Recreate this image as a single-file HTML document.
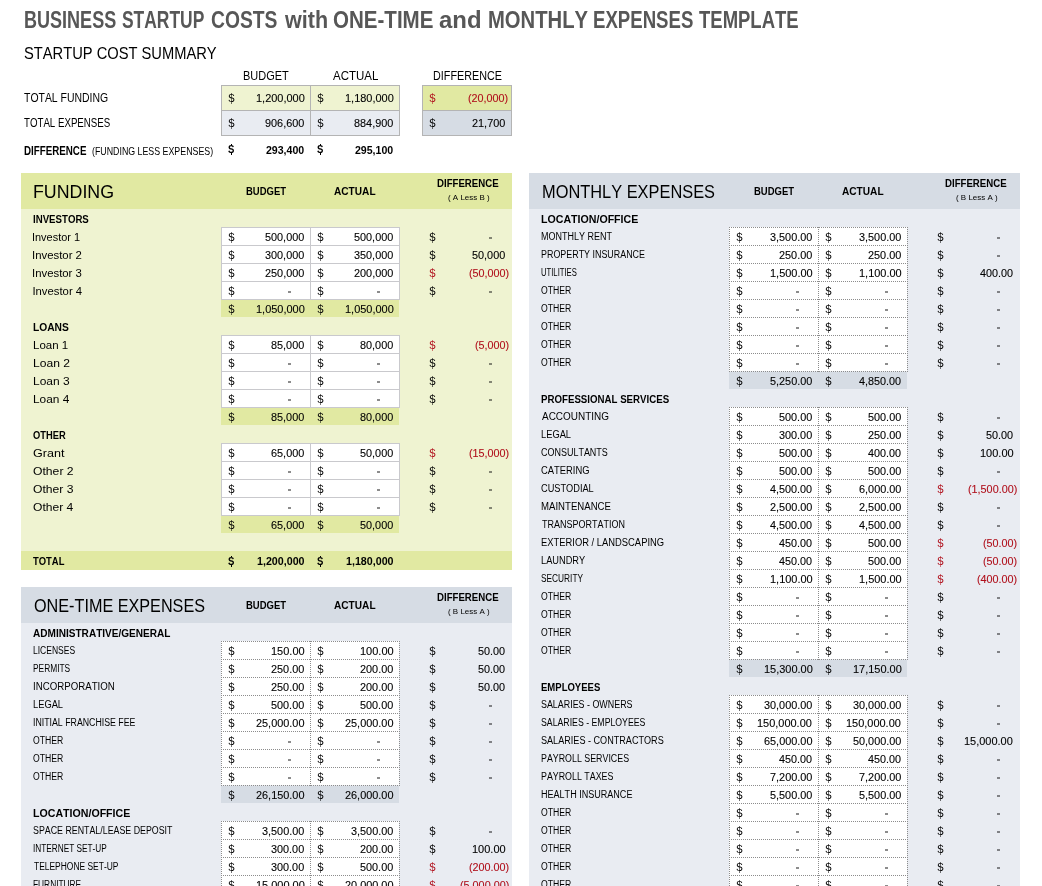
<!DOCTYPE html>
<html><head><meta charset="utf-8"><title>Business Startup Costs</title>
<style>
html,body{margin:0;padding:0;background:#fff;}
body{width:1042px;height:886px;position:relative;overflow:hidden;font-family:"Liberation Sans",sans-serif;font-kerning:none;will-change:transform;}
body>div,body>span{position:absolute;}
body>span{white-space:pre;transform-origin:0 0;}
</style></head><body>
<span style="left:23.89px;top:9.13px;font-size:23.0px;line-height:23.0px;font-weight:bold;color:#575757;transform:scaleX(0.7842);">BUSINESS</span>
<span style="left:122.30px;top:9.13px;font-size:23.0px;line-height:23.0px;font-weight:bold;color:#575757;transform:scaleX(0.7577);">STARTUP</span>
<span style="left:210.81px;top:9.13px;font-size:23.0px;line-height:23.0px;font-weight:bold;color:#575757;transform:scaleX(0.8386);">COSTS</span>
<span style="left:284.76px;top:9.13px;font-size:23.0px;line-height:23.0px;font-weight:bold;color:#575757;transform:scaleX(0.9366);">with</span>
<span style="left:333.06px;top:9.13px;font-size:23.0px;line-height:23.0px;font-weight:bold;color:#575757;transform:scaleX(0.8933);">ONE-TIME</span>
<span style="left:439.40px;top:9.13px;font-size:23.0px;line-height:23.0px;font-weight:bold;color:#575757;transform:scaleX(1.0413);">and</span>
<span style="left:487.95px;top:9.13px;font-size:23.0px;line-height:23.0px;font-weight:bold;color:#575757;transform:scaleX(0.8801);">MONTHLY</span>
<span style="left:593.15px;top:9.13px;font-size:23.0px;line-height:23.0px;font-weight:bold;color:#575757;transform:scaleX(0.8095);">EXPENSES</span>
<span style="left:698.69px;top:9.13px;font-size:23.0px;line-height:23.0px;font-weight:bold;color:#575757;transform:scaleX(0.8039);">TEMPLATE</span>
<span style="left:24.33px;top:44.61px;font-size:17px;line-height:17px;color:#000000;transform:scaleX(0.8640);">STARTUP COST SUMMARY</span>
<span style="left:243.40px;top:69.96px;font-size:12.8px;line-height:12.8px;color:#000000;transform:scaleX(0.8578);">BUDGET</span>
<span style="left:332.78px;top:69.96px;font-size:12.8px;line-height:12.8px;color:#000000;transform:scaleX(0.8971);">ACTUAL</span>
<span style="left:432.81px;top:69.96px;font-size:12.8px;line-height:12.8px;color:#000000;transform:scaleX(0.8431);">DIFFERENCE</span>
<span style="left:23.97px;top:91.72px;font-size:12.5px;line-height:12.5px;color:#000000;transform:scaleX(0.8353);">TOTAL FUNDING</span>
<span style="left:23.98px;top:116.62px;font-size:12.5px;line-height:12.5px;color:#000000;transform:scaleX(0.7761);">TOTAL EXPENSES</span>
<span style="left:23.55px;top:144.72px;font-size:12.5px;line-height:12.5px;font-weight:bold;color:#000000;transform:scaleX(0.7818);">DIFFERENCE</span>
<span style="left:92.25px;top:145.56px;font-size:11.5px;line-height:11.5px;color:#000000;transform:scaleX(0.7672);">(FUNDING LESS EXPENSES)</span>
<div style="left:221px;top:85px;width:178px;height:25px;background:#EFF3D1;"></div>
<div style="left:221px;top:110px;width:178px;height:25px;background:#E9ECF2;"></div>
<div style="left:422px;top:85px;width:89px;height:25px;background:#E1E9A2;"></div>
<div style="left:422px;top:110px;width:89px;height:25px;background:#D6DCE4;"></div>
<div style="left:221px;top:85px;width:179px;height:0;border-top:1px solid #B4B4B4"></div>
<div style="left:422px;top:85px;width:90px;height:0;border-top:1px solid #B4B4B4"></div>
<div style="left:221px;top:110px;width:179px;height:0;border-top:1px solid #B4B4B4"></div>
<div style="left:422px;top:110px;width:90px;height:0;border-top:1px solid #B4B4B4"></div>
<div style="left:221px;top:135px;width:179px;height:0;border-top:1px solid #B4B4B4"></div>
<div style="left:422px;top:135px;width:90px;height:0;border-top:1px solid #B4B4B4"></div>
<div style="left:221px;top:85px;width:0;height:51px;border-left:1px solid #B4B4B4"></div>
<div style="left:310px;top:85px;width:0;height:51px;border-left:1px solid #B4B4B4"></div>
<div style="left:399px;top:85px;width:0;height:51px;border-left:1px solid #B4B4B4"></div>
<div style="left:422px;top:85px;width:0;height:51px;border-left:1px solid #B4B4B4"></div>
<div style="left:511px;top:85px;width:0;height:51px;border-left:1px solid #B4B4B4"></div>
<span style="left:227.93px;top:93.02px;font-size:10.6px;line-height:10.6px;color:#000000;transform:scaleX(0.9669);">S</span>
<div style="left:231px;top:93.0px;width:1px;height:11.2px;background:#000000;opacity:0.55"></div>
<span style="left:255.53px;top:92.52px;font-size:10.6px;line-height:10.6px;color:#000000;transform:scaleX(1.0347);-webkit-text-stroke:0.1px #000000;">1,200,000</span>
<span style="left:316.93px;top:93.02px;font-size:10.6px;line-height:10.6px;color:#000000;transform:scaleX(0.9669);">S</span>
<div style="left:320px;top:93.0px;width:1px;height:11.2px;background:#000000;opacity:0.55"></div>
<span style="left:344.53px;top:92.52px;font-size:10.6px;line-height:10.6px;color:#000000;transform:scaleX(1.0347);-webkit-text-stroke:0.1px #000000;">1,180,000</span>
<span style="left:227.93px;top:118.32px;font-size:10.6px;line-height:10.6px;color:#000000;transform:scaleX(0.9669);">S</span>
<div style="left:231px;top:118.3px;width:1px;height:11.2px;background:#000000;opacity:0.55"></div>
<span style="left:264.96px;top:117.82px;font-size:10.6px;line-height:10.6px;color:#000000;transform:scaleX(1.0274);-webkit-text-stroke:0.1px #000000;">906,600</span>
<span style="left:316.93px;top:118.32px;font-size:10.6px;line-height:10.6px;color:#000000;transform:scaleX(0.9669);">S</span>
<div style="left:320px;top:118.3px;width:1px;height:11.2px;background:#000000;opacity:0.55"></div>
<span style="left:354.00px;top:117.82px;font-size:10.6px;line-height:10.6px;color:#000000;transform:scaleX(1.0264);-webkit-text-stroke:0.1px #000000;">884,900</span>
<span style="left:428.93px;top:93.02px;font-size:10.6px;line-height:10.6px;color:#B0101C;transform:scaleX(0.9669);">S</span>
<div style="left:432px;top:93.0px;width:1px;height:11.2px;background:#B0101C;opacity:0.55"></div>
<span style="left:467.89px;top:92.52px;font-size:10.6px;line-height:10.6px;color:#B0101C;transform:scaleX(1.0178);-webkit-text-stroke:0.1px #B0101C;">(20,000)</span>
<span style="left:428.93px;top:118.32px;font-size:10.6px;line-height:10.6px;color:#000000;transform:scaleX(0.9669);">S</span>
<div style="left:432px;top:118.3px;width:1px;height:11.2px;background:#000000;opacity:0.55"></div>
<span style="left:471.79px;top:117.82px;font-size:10.6px;line-height:10.6px;color:#000000;transform:scaleX(1.0283);-webkit-text-stroke:0.1px #000000;">21,700</span>
<span style="left:228.13px;top:144.23px;font-size:11.3px;line-height:11.3px;font-weight:bold;color:#000000;transform:scaleX(0.8419);">S</span>
<div style="left:230.9px;top:144.29999999999998px;width:1.2px;height:1.6px;background:#000000"></div>
<div style="left:230.9px;top:152.6px;width:1.2px;height:2.6px;background:#000000"></div>
<span style="left:265.95px;top:144.62px;font-size:10.6px;line-height:10.6px;font-weight:bold;color:#000000;">293,400</span>
<span style="left:317.13px;top:144.23px;font-size:11.3px;line-height:11.3px;font-weight:bold;color:#000000;transform:scaleX(0.8419);">S</span>
<div style="left:319.9px;top:144.29999999999998px;width:1.2px;height:1.6px;background:#000000"></div>
<div style="left:319.9px;top:152.6px;width:1.2px;height:2.6px;background:#000000"></div>
<span style="left:354.95px;top:144.62px;font-size:10.6px;line-height:10.6px;font-weight:bold;color:#000000;">295,100</span>
<div style="left:21px;top:173px;width:491px;height:396px;background:#EFF3D1;"></div>
<div style="left:21px;top:173px;width:491px;height:36px;background:#E1E9A2;"></div>
<span style="left:33.44px;top:183.42px;font-size:18.4px;line-height:18.4px;color:#000000;transform:scaleX(0.9675);">FUNDING</span>
<span style="left:246.17px;top:185.96px;font-size:10.8px;line-height:10.8px;font-weight:bold;color:#000000;transform:scaleX(0.8780);">BUDGET</span>
<span style="left:334.35px;top:185.96px;font-size:10.8px;line-height:10.8px;font-weight:bold;color:#000000;transform:scaleX(0.9363);">ACTUAL</span>
<span style="left:437.05px;top:178.58px;font-size:10.3px;line-height:10.3px;font-weight:bold;color:#000000;transform:scaleX(0.9364);">DIFFERENCE</span>
<span style="left:447.51px;top:194.33px;font-size:8px;line-height:8px;color:#000000;transform:scaleX(0.9952);">( A Less B )</span>
<span style="left:32.65px;top:212.68px;font-size:11.6px;line-height:11.6px;font-weight:bold;color:#000000;transform:scaleX(0.8329);">INVESTORS</span>
<div style="left:221px;top:227px;width:178px;height:72px;background:#FFFFFF;"></div>
<div style="left:221px;top:227px;width:179px;height:0;border-top:1px solid #C9C9CD"></div>
<div style="left:221px;top:245px;width:179px;height:0;border-top:1px solid #C9C9CD"></div>
<div style="left:221px;top:263px;width:179px;height:0;border-top:1px solid #C9C9CD"></div>
<div style="left:221px;top:281px;width:179px;height:0;border-top:1px solid #C9C9CD"></div>
<div style="left:221px;top:299px;width:179px;height:0;border-top:1px solid #C9C9CD"></div>
<div style="left:221px;top:227px;width:0;height:73px;border-left:1px solid #C9C9CD"></div>
<div style="left:310px;top:227px;width:0;height:73px;border-left:1px solid #C9C9CD"></div>
<div style="left:399px;top:227px;width:0;height:73px;border-left:1px solid #C9C9CD"></div>
<span style="left:32.49px;top:232.13px;font-size:11.3px;line-height:11.3px;color:#000000;transform:scaleX(0.9682);">Investor 1</span>
<span style="left:227.93px;top:231.72px;font-size:10.6px;line-height:10.6px;color:#000000;transform:scaleX(0.9669);">S</span>
<div style="left:231px;top:231.7px;width:1px;height:11.2px;background:#000000;opacity:0.55"></div>
<span style="left:265.03px;top:232.02px;font-size:10.6px;line-height:10.6px;color:#000000;transform:scaleX(1.0254);-webkit-text-stroke:0.1px #000000;">500,000</span>
<span style="left:316.93px;top:231.72px;font-size:10.6px;line-height:10.6px;color:#000000;transform:scaleX(0.9669);">S</span>
<div style="left:320px;top:231.7px;width:1px;height:11.2px;background:#000000;opacity:0.55"></div>
<span style="left:354.03px;top:232.02px;font-size:10.6px;line-height:10.6px;color:#000000;transform:scaleX(1.0254);-webkit-text-stroke:0.1px #000000;">500,000</span>
<span style="left:429.13px;top:231.72px;font-size:10.6px;line-height:10.6px;color:#000000;transform:scaleX(0.9669);">S</span>
<div style="left:432px;top:231.7px;width:1px;height:11.2px;background:#000000;opacity:0.55"></div>
<div style="left:489px;top:237px;width:3px;height:2px;background:rgba(0,0,0,0.45)"></div>
<span style="left:32.45px;top:250.13px;font-size:11.3px;line-height:11.3px;color:#000000;transform:scaleX(1.0061);">Investor 2</span>
<span style="left:227.93px;top:249.72px;font-size:10.6px;line-height:10.6px;color:#000000;transform:scaleX(0.9669);">S</span>
<div style="left:231px;top:249.7px;width:1px;height:11.2px;background:#000000;opacity:0.55"></div>
<span style="left:265.06px;top:250.02px;font-size:10.6px;line-height:10.6px;color:#000000;transform:scaleX(1.0249);-webkit-text-stroke:0.1px #000000;">300,000</span>
<span style="left:316.93px;top:249.72px;font-size:10.6px;line-height:10.6px;color:#000000;transform:scaleX(0.9669);">S</span>
<div style="left:320px;top:249.7px;width:1px;height:11.2px;background:#000000;opacity:0.55"></div>
<span style="left:354.06px;top:250.02px;font-size:10.6px;line-height:10.6px;color:#000000;transform:scaleX(1.0249);-webkit-text-stroke:0.1px #000000;">350,000</span>
<span style="left:429.13px;top:249.72px;font-size:10.6px;line-height:10.6px;color:#000000;transform:scaleX(0.9669);">S</span>
<div style="left:432px;top:249.7px;width:1px;height:11.2px;background:#000000;opacity:0.55"></div>
<span style="left:472.00px;top:250.02px;font-size:10.6px;line-height:10.6px;color:#000000;transform:scaleX(1.0248);-webkit-text-stroke:0.1px #000000;">50,000</span>
<span style="left:32.45px;top:268.13px;font-size:11.3px;line-height:11.3px;color:#000000;transform:scaleX(1.0046);">Investor 3</span>
<span style="left:227.93px;top:267.72px;font-size:10.6px;line-height:10.6px;color:#000000;transform:scaleX(0.9669);">S</span>
<div style="left:231px;top:267.7px;width:1px;height:11.2px;background:#000000;opacity:0.55"></div>
<span style="left:264.92px;top:268.02px;font-size:10.6px;line-height:10.6px;color:#000000;transform:scaleX(1.0284);-webkit-text-stroke:0.1px #000000;">250,000</span>
<span style="left:316.93px;top:267.72px;font-size:10.6px;line-height:10.6px;color:#000000;transform:scaleX(0.9669);">S</span>
<div style="left:320px;top:267.7px;width:1px;height:11.2px;background:#000000;opacity:0.55"></div>
<span style="left:353.92px;top:268.02px;font-size:10.6px;line-height:10.6px;color:#000000;transform:scaleX(1.0284);-webkit-text-stroke:0.1px #000000;">200,000</span>
<span style="left:429.13px;top:267.72px;font-size:10.6px;line-height:10.6px;color:#B0101C;transform:scaleX(0.9669);">S</span>
<div style="left:432px;top:267.7px;width:1px;height:11.2px;background:#B0101C;opacity:0.55"></div>
<span style="left:468.79px;top:268.02px;font-size:10.6px;line-height:10.6px;color:#B0101C;transform:scaleX(1.0178);-webkit-text-stroke:0.1px #B0101C;">(50,000)</span>
<span style="left:32.46px;top:286.13px;font-size:11.3px;line-height:11.3px;color:#000000;">Investor 4</span>
<span style="left:227.93px;top:285.72px;font-size:10.6px;line-height:10.6px;color:#000000;transform:scaleX(0.9669);">S</span>
<div style="left:231px;top:285.7px;width:1px;height:11.2px;background:#000000;opacity:0.55"></div>
<div style="left:288px;top:291px;width:3px;height:2px;background:rgba(0,0,0,0.45)"></div>
<span style="left:316.93px;top:285.72px;font-size:10.6px;line-height:10.6px;color:#000000;transform:scaleX(0.9669);">S</span>
<div style="left:320px;top:285.7px;width:1px;height:11.2px;background:#000000;opacity:0.55"></div>
<div style="left:377px;top:291px;width:3px;height:2px;background:rgba(0,0,0,0.45)"></div>
<span style="left:429.13px;top:285.72px;font-size:10.6px;line-height:10.6px;color:#000000;transform:scaleX(0.9669);">S</span>
<div style="left:432px;top:285.7px;width:1px;height:11.2px;background:#000000;opacity:0.55"></div>
<div style="left:489px;top:291px;width:3px;height:2px;background:rgba(0,0,0,0.45)"></div>
<div style="left:221px;top:300px;width:178px;height:17px;background:#E1E9A2;"></div>
<span style="left:227.93px;top:303.72px;font-size:10.6px;line-height:10.6px;color:#000000;transform:scaleX(0.9669);">S</span>
<div style="left:231px;top:303.7px;width:1px;height:11.2px;background:#000000;opacity:0.55"></div>
<span style="left:255.53px;top:304.02px;font-size:10.6px;line-height:10.6px;color:#000000;transform:scaleX(1.0347);-webkit-text-stroke:0.1px #000000;">1,050,000</span>
<span style="left:316.93px;top:303.72px;font-size:10.6px;line-height:10.6px;color:#000000;transform:scaleX(0.9669);">S</span>
<div style="left:320px;top:303.7px;width:1px;height:11.2px;background:#000000;opacity:0.55"></div>
<span style="left:344.53px;top:304.02px;font-size:10.6px;line-height:10.6px;color:#000000;transform:scaleX(1.0347);-webkit-text-stroke:0.1px #000000;">1,050,000</span>
<span style="left:32.62px;top:320.68px;font-size:11.6px;line-height:11.6px;font-weight:bold;color:#000000;transform:scaleX(0.8827);">LOANS</span>
<div style="left:221px;top:335px;width:178px;height:72px;background:#FFFFFF;"></div>
<div style="left:221px;top:335px;width:179px;height:0;border-top:1px solid #C9C9CD"></div>
<div style="left:221px;top:353px;width:179px;height:0;border-top:1px solid #C9C9CD"></div>
<div style="left:221px;top:371px;width:179px;height:0;border-top:1px solid #C9C9CD"></div>
<div style="left:221px;top:389px;width:179px;height:0;border-top:1px solid #C9C9CD"></div>
<div style="left:221px;top:407px;width:179px;height:0;border-top:1px solid #C9C9CD"></div>
<div style="left:221px;top:335px;width:0;height:73px;border-left:1px solid #C9C9CD"></div>
<div style="left:310px;top:335px;width:0;height:73px;border-left:1px solid #C9C9CD"></div>
<div style="left:399px;top:335px;width:0;height:73px;border-left:1px solid #C9C9CD"></div>
<span style="left:32.56px;top:340.13px;font-size:11.3px;line-height:11.3px;color:#000000;transform:scaleX(1.0186);">Loan 1</span>
<span style="left:227.93px;top:339.72px;font-size:10.6px;line-height:10.6px;color:#000000;transform:scaleX(0.9669);">S</span>
<div style="left:231px;top:339.7px;width:1px;height:11.2px;background:#000000;opacity:0.55"></div>
<span style="left:271.06px;top:340.02px;font-size:10.6px;line-height:10.6px;color:#000000;transform:scaleX(1.0259);-webkit-text-stroke:0.1px #000000;">85,000</span>
<span style="left:316.93px;top:339.72px;font-size:10.6px;line-height:10.6px;color:#000000;transform:scaleX(0.9669);">S</span>
<div style="left:320px;top:339.7px;width:1px;height:11.2px;background:#000000;opacity:0.55"></div>
<span style="left:360.06px;top:340.02px;font-size:10.6px;line-height:10.6px;color:#000000;transform:scaleX(1.0259);-webkit-text-stroke:0.1px #000000;">80,000</span>
<span style="left:429.13px;top:339.72px;font-size:10.6px;line-height:10.6px;color:#B0101C;transform:scaleX(0.9669);">S</span>
<div style="left:432px;top:339.7px;width:1px;height:11.2px;background:#B0101C;opacity:0.55"></div>
<span style="left:474.85px;top:340.02px;font-size:10.6px;line-height:10.6px;color:#B0101C;transform:scaleX(1.0158);-webkit-text-stroke:0.1px #B0101C;">(5,000)</span>
<span style="left:32.51px;top:358.13px;font-size:11.3px;line-height:11.3px;color:#000000;transform:scaleX(1.0706);">Loan 2</span>
<span style="left:227.93px;top:357.72px;font-size:10.6px;line-height:10.6px;color:#000000;transform:scaleX(0.9669);">S</span>
<div style="left:231px;top:357.7px;width:1px;height:11.2px;background:#000000;opacity:0.55"></div>
<div style="left:288px;top:363px;width:3px;height:2px;background:rgba(0,0,0,0.45)"></div>
<span style="left:316.93px;top:357.72px;font-size:10.6px;line-height:10.6px;color:#000000;transform:scaleX(0.9669);">S</span>
<div style="left:320px;top:357.7px;width:1px;height:11.2px;background:#000000;opacity:0.55"></div>
<div style="left:377px;top:363px;width:3px;height:2px;background:rgba(0,0,0,0.45)"></div>
<span style="left:429.13px;top:357.72px;font-size:10.6px;line-height:10.6px;color:#000000;transform:scaleX(0.9669);">S</span>
<div style="left:432px;top:357.7px;width:1px;height:11.2px;background:#000000;opacity:0.55"></div>
<div style="left:489px;top:363px;width:3px;height:2px;background:rgba(0,0,0,0.45)"></div>
<span style="left:32.52px;top:376.13px;font-size:11.3px;line-height:11.3px;color:#000000;transform:scaleX(1.0592);">Loan 3</span>
<span style="left:227.93px;top:375.72px;font-size:10.6px;line-height:10.6px;color:#000000;transform:scaleX(0.9669);">S</span>
<div style="left:231px;top:375.7px;width:1px;height:11.2px;background:#000000;opacity:0.55"></div>
<div style="left:288px;top:381px;width:3px;height:2px;background:rgba(0,0,0,0.45)"></div>
<span style="left:316.93px;top:375.72px;font-size:10.6px;line-height:10.6px;color:#000000;transform:scaleX(0.9669);">S</span>
<div style="left:320px;top:375.7px;width:1px;height:11.2px;background:#000000;opacity:0.55"></div>
<div style="left:377px;top:381px;width:3px;height:2px;background:rgba(0,0,0,0.45)"></div>
<span style="left:429.13px;top:375.72px;font-size:10.6px;line-height:10.6px;color:#000000;transform:scaleX(0.9669);">S</span>
<div style="left:432px;top:375.7px;width:1px;height:11.2px;background:#000000;opacity:0.55"></div>
<div style="left:489px;top:381px;width:3px;height:2px;background:rgba(0,0,0,0.45)"></div>
<span style="left:32.53px;top:394.13px;font-size:11.3px;line-height:11.3px;color:#000000;transform:scaleX(1.0509);">Loan 4</span>
<span style="left:227.93px;top:393.72px;font-size:10.6px;line-height:10.6px;color:#000000;transform:scaleX(0.9669);">S</span>
<div style="left:231px;top:393.7px;width:1px;height:11.2px;background:#000000;opacity:0.55"></div>
<div style="left:288px;top:399px;width:3px;height:2px;background:rgba(0,0,0,0.45)"></div>
<span style="left:316.93px;top:393.72px;font-size:10.6px;line-height:10.6px;color:#000000;transform:scaleX(0.9669);">S</span>
<div style="left:320px;top:393.7px;width:1px;height:11.2px;background:#000000;opacity:0.55"></div>
<div style="left:377px;top:399px;width:3px;height:2px;background:rgba(0,0,0,0.45)"></div>
<span style="left:429.13px;top:393.72px;font-size:10.6px;line-height:10.6px;color:#000000;transform:scaleX(0.9669);">S</span>
<div style="left:432px;top:393.7px;width:1px;height:11.2px;background:#000000;opacity:0.55"></div>
<div style="left:489px;top:399px;width:3px;height:2px;background:rgba(0,0,0,0.45)"></div>
<div style="left:221px;top:408px;width:178px;height:17px;background:#E1E9A2;"></div>
<span style="left:227.93px;top:411.72px;font-size:10.6px;line-height:10.6px;color:#000000;transform:scaleX(0.9669);">S</span>
<div style="left:231px;top:411.7px;width:1px;height:11.2px;background:#000000;opacity:0.55"></div>
<span style="left:271.06px;top:412.02px;font-size:10.6px;line-height:10.6px;color:#000000;transform:scaleX(1.0259);-webkit-text-stroke:0.1px #000000;">85,000</span>
<span style="left:316.93px;top:411.72px;font-size:10.6px;line-height:10.6px;color:#000000;transform:scaleX(0.9669);">S</span>
<div style="left:320px;top:411.7px;width:1px;height:11.2px;background:#000000;opacity:0.55"></div>
<span style="left:360.06px;top:412.02px;font-size:10.6px;line-height:10.6px;color:#000000;transform:scaleX(1.0259);-webkit-text-stroke:0.1px #000000;">80,000</span>
<span style="left:32.92px;top:428.68px;font-size:11.6px;line-height:11.6px;font-weight:bold;color:#000000;transform:scaleX(0.8057);">OTHER</span>
<div style="left:221px;top:443px;width:178px;height:72px;background:#FFFFFF;"></div>
<div style="left:221px;top:443px;width:179px;height:0;border-top:1px solid #C9C9CD"></div>
<div style="left:221px;top:461px;width:179px;height:0;border-top:1px solid #C9C9CD"></div>
<div style="left:221px;top:479px;width:179px;height:0;border-top:1px solid #C9C9CD"></div>
<div style="left:221px;top:497px;width:179px;height:0;border-top:1px solid #C9C9CD"></div>
<div style="left:221px;top:515px;width:179px;height:0;border-top:1px solid #C9C9CD"></div>
<div style="left:221px;top:443px;width:0;height:73px;border-left:1px solid #C9C9CD"></div>
<div style="left:310px;top:443px;width:0;height:73px;border-left:1px solid #C9C9CD"></div>
<div style="left:399px;top:443px;width:0;height:73px;border-left:1px solid #C9C9CD"></div>
<span style="left:32.87px;top:448.13px;font-size:11.3px;line-height:11.3px;color:#000000;transform:scaleX(1.1119);">Grant</span>
<span style="left:227.93px;top:447.72px;font-size:10.6px;line-height:10.6px;color:#000000;transform:scaleX(0.9669);">S</span>
<div style="left:231px;top:447.7px;width:1px;height:11.2px;background:#000000;opacity:0.55"></div>
<span style="left:270.98px;top:448.02px;font-size:10.6px;line-height:10.6px;color:#000000;transform:scaleX(1.0285);-webkit-text-stroke:0.1px #000000;">65,000</span>
<span style="left:316.93px;top:447.72px;font-size:10.6px;line-height:10.6px;color:#000000;transform:scaleX(0.9669);">S</span>
<div style="left:320px;top:447.7px;width:1px;height:11.2px;background:#000000;opacity:0.55"></div>
<span style="left:360.10px;top:448.02px;font-size:10.6px;line-height:10.6px;color:#000000;transform:scaleX(1.0248);-webkit-text-stroke:0.1px #000000;">50,000</span>
<span style="left:429.13px;top:447.72px;font-size:10.6px;line-height:10.6px;color:#B0101C;transform:scaleX(0.9669);">S</span>
<div style="left:432px;top:447.7px;width:1px;height:11.2px;background:#B0101C;opacity:0.55"></div>
<span style="left:468.79px;top:448.02px;font-size:10.6px;line-height:10.6px;color:#B0101C;transform:scaleX(1.0178);-webkit-text-stroke:0.1px #B0101C;">(15,000)</span>
<span style="left:32.92px;top:466.13px;font-size:11.3px;line-height:11.3px;color:#000000;transform:scaleX(1.0770);">Other 2</span>
<span style="left:227.93px;top:465.72px;font-size:10.6px;line-height:10.6px;color:#000000;transform:scaleX(0.9669);">S</span>
<div style="left:231px;top:465.7px;width:1px;height:11.2px;background:#000000;opacity:0.55"></div>
<div style="left:288px;top:471px;width:3px;height:2px;background:rgba(0,0,0,0.45)"></div>
<span style="left:316.93px;top:465.72px;font-size:10.6px;line-height:10.6px;color:#000000;transform:scaleX(0.9669);">S</span>
<div style="left:320px;top:465.7px;width:1px;height:11.2px;background:#000000;opacity:0.55"></div>
<div style="left:377px;top:471px;width:3px;height:2px;background:rgba(0,0,0,0.45)"></div>
<span style="left:429.13px;top:465.72px;font-size:10.6px;line-height:10.6px;color:#000000;transform:scaleX(0.9669);">S</span>
<div style="left:432px;top:465.7px;width:1px;height:11.2px;background:#000000;opacity:0.55"></div>
<div style="left:489px;top:471px;width:3px;height:2px;background:rgba(0,0,0,0.45)"></div>
<span style="left:32.92px;top:484.13px;font-size:11.3px;line-height:11.3px;color:#000000;transform:scaleX(1.0749);">Other 3</span>
<span style="left:227.93px;top:483.72px;font-size:10.6px;line-height:10.6px;color:#000000;transform:scaleX(0.9669);">S</span>
<div style="left:231px;top:483.7px;width:1px;height:11.2px;background:#000000;opacity:0.55"></div>
<div style="left:288px;top:489px;width:3px;height:2px;background:rgba(0,0,0,0.45)"></div>
<span style="left:316.93px;top:483.72px;font-size:10.6px;line-height:10.6px;color:#000000;transform:scaleX(0.9669);">S</span>
<div style="left:320px;top:483.7px;width:1px;height:11.2px;background:#000000;opacity:0.55"></div>
<div style="left:377px;top:489px;width:3px;height:2px;background:rgba(0,0,0,0.45)"></div>
<span style="left:429.13px;top:483.72px;font-size:10.6px;line-height:10.6px;color:#000000;transform:scaleX(0.9669);">S</span>
<div style="left:432px;top:483.7px;width:1px;height:11.2px;background:#000000;opacity:0.55"></div>
<div style="left:489px;top:489px;width:3px;height:2px;background:rgba(0,0,0,0.45)"></div>
<span style="left:32.93px;top:502.13px;font-size:11.3px;line-height:11.3px;color:#000000;transform:scaleX(1.0701);">Other 4</span>
<span style="left:227.93px;top:501.72px;font-size:10.6px;line-height:10.6px;color:#000000;transform:scaleX(0.9669);">S</span>
<div style="left:231px;top:501.7px;width:1px;height:11.2px;background:#000000;opacity:0.55"></div>
<div style="left:288px;top:507px;width:3px;height:2px;background:rgba(0,0,0,0.45)"></div>
<span style="left:316.93px;top:501.72px;font-size:10.6px;line-height:10.6px;color:#000000;transform:scaleX(0.9669);">S</span>
<div style="left:320px;top:501.7px;width:1px;height:11.2px;background:#000000;opacity:0.55"></div>
<div style="left:377px;top:507px;width:3px;height:2px;background:rgba(0,0,0,0.45)"></div>
<span style="left:429.13px;top:501.72px;font-size:10.6px;line-height:10.6px;color:#000000;transform:scaleX(0.9669);">S</span>
<div style="left:432px;top:501.7px;width:1px;height:11.2px;background:#000000;opacity:0.55"></div>
<div style="left:489px;top:507px;width:3px;height:2px;background:rgba(0,0,0,0.45)"></div>
<div style="left:221px;top:516px;width:178px;height:17px;background:#E1E9A2;"></div>
<span style="left:227.93px;top:519.72px;font-size:10.6px;line-height:10.6px;color:#000000;transform:scaleX(0.9669);">S</span>
<div style="left:231px;top:519.7px;width:1px;height:11.2px;background:#000000;opacity:0.55"></div>
<span style="left:270.98px;top:520.02px;font-size:10.6px;line-height:10.6px;color:#000000;transform:scaleX(1.0285);-webkit-text-stroke:0.1px #000000;">65,000</span>
<span style="left:316.93px;top:519.72px;font-size:10.6px;line-height:10.6px;color:#000000;transform:scaleX(0.9669);">S</span>
<div style="left:320px;top:519.7px;width:1px;height:11.2px;background:#000000;opacity:0.55"></div>
<span style="left:360.10px;top:520.02px;font-size:10.6px;line-height:10.6px;color:#000000;transform:scaleX(1.0248);-webkit-text-stroke:0.1px #000000;">50,000</span>
<div style="left:21px;top:551px;width:491px;height:19px;background:#E1E9A2;"></div>
<span style="left:32.99px;top:555.18px;font-size:11.6px;line-height:11.6px;font-weight:bold;color:#000000;transform:scaleX(0.8130);">TOTAL</span>
<span style="left:228.13px;top:555.63px;font-size:11.3px;line-height:11.3px;font-weight:bold;color:#000000;transform:scaleX(0.8419);">S</span>
<div style="left:230.9px;top:555.7px;width:1.2px;height:1.6px;background:#000000"></div>
<div style="left:230.9px;top:564px;width:1.2px;height:2.6px;background:#000000"></div>
<span style="left:256.74px;top:556.02px;font-size:10.6px;line-height:10.6px;font-weight:bold;color:#000000;transform:scaleX(1.0094);">1,200,000</span>
<span style="left:317.13px;top:555.63px;font-size:11.3px;line-height:11.3px;font-weight:bold;color:#000000;transform:scaleX(0.8419);">S</span>
<div style="left:319.9px;top:555.7px;width:1.2px;height:1.6px;background:#000000"></div>
<div style="left:319.9px;top:564px;width:1.2px;height:2.6px;background:#000000"></div>
<span style="left:345.74px;top:556.02px;font-size:10.6px;line-height:10.6px;font-weight:bold;color:#000000;transform:scaleX(1.0094);">1,180,000</span>
<div style="left:529px;top:173px;width:491px;height:738px;background:#E9ECF2;"></div>
<div style="left:529px;top:173px;width:491px;height:36px;background:#D6DCE4;"></div>
<span style="left:541.56px;top:183.42px;font-size:18.4px;line-height:18.4px;color:#000000;transform:scaleX(0.8910);">MONTHLY EXPENSES</span>
<span style="left:754.17px;top:185.96px;font-size:10.8px;line-height:10.8px;font-weight:bold;color:#000000;transform:scaleX(0.8780);">BUDGET</span>
<span style="left:842.35px;top:185.96px;font-size:10.8px;line-height:10.8px;font-weight:bold;color:#000000;transform:scaleX(0.9363);">ACTUAL</span>
<span style="left:945.05px;top:178.58px;font-size:10.3px;line-height:10.3px;font-weight:bold;color:#000000;transform:scaleX(0.9364);">DIFFERENCE</span>
<span style="left:955.51px;top:194.33px;font-size:8px;line-height:8px;color:#000000;transform:scaleX(0.9952);">( B Less A )</span>
<span style="left:540.59px;top:212.68px;font-size:11.6px;line-height:11.6px;font-weight:bold;color:#000000;transform:scaleX(0.9156);">LOCATION/OFFICE</span>
<div style="left:729px;top:227px;width:178px;height:144px;background:#FFFFFF;"></div>
<div style="left:729px;top:227px;width:179px;height:0;border-top:1px dotted #8C8C8C"></div>
<div style="left:729px;top:245px;width:179px;height:0;border-top:1px dotted #8C8C8C"></div>
<div style="left:729px;top:263px;width:179px;height:0;border-top:1px dotted #8C8C8C"></div>
<div style="left:729px;top:281px;width:179px;height:0;border-top:1px dotted #8C8C8C"></div>
<div style="left:729px;top:299px;width:179px;height:0;border-top:1px dotted #8C8C8C"></div>
<div style="left:729px;top:317px;width:179px;height:0;border-top:1px dotted #8C8C8C"></div>
<div style="left:729px;top:335px;width:179px;height:0;border-top:1px dotted #8C8C8C"></div>
<div style="left:729px;top:353px;width:179px;height:0;border-top:1px dotted #8C8C8C"></div>
<div style="left:729px;top:371px;width:179px;height:0;border-top:1px dotted #8C8C8C"></div>
<div style="left:729px;top:227px;width:0;height:145px;border-left:1px dotted #8C8C8C"></div>
<div style="left:818px;top:227px;width:0;height:145px;border-left:1px dotted #8C8C8C"></div>
<div style="left:907px;top:227px;width:0;height:145px;border-left:1px dotted #8C8C8C"></div>
<span style="left:540.96px;top:232.33px;font-size:10.0px;line-height:10.0px;color:#000000;transform:scaleX(0.8986);">MONTHLY RENT</span>
<span style="left:735.93px;top:231.72px;font-size:10.6px;line-height:10.6px;color:#000000;transform:scaleX(0.9669);">S</span>
<div style="left:739px;top:231.7px;width:1px;height:11.2px;background:#000000;opacity:0.55"></div>
<span style="left:770.02px;top:232.02px;font-size:10.6px;line-height:10.6px;color:#000000;transform:scaleX(1.0252);-webkit-text-stroke:0.1px #000000;">3,500.00</span>
<span style="left:824.93px;top:231.72px;font-size:10.6px;line-height:10.6px;color:#000000;transform:scaleX(0.9669);">S</span>
<div style="left:828px;top:231.7px;width:1px;height:11.2px;background:#000000;opacity:0.55"></div>
<span style="left:859.02px;top:232.02px;font-size:10.6px;line-height:10.6px;color:#000000;transform:scaleX(1.0252);-webkit-text-stroke:0.1px #000000;">3,500.00</span>
<span style="left:937.13px;top:231.72px;font-size:10.6px;line-height:10.6px;color:#000000;transform:scaleX(0.9669);">S</span>
<div style="left:940px;top:231.7px;width:1px;height:11.2px;background:#000000;opacity:0.55"></div>
<div style="left:997px;top:237px;width:3px;height:2px;background:rgba(0,0,0,0.45)"></div>
<span style="left:540.97px;top:250.33px;font-size:10.0px;line-height:10.0px;color:#000000;transform:scaleX(0.8911);">PROPERTY INSURANCE</span>
<span style="left:735.93px;top:249.72px;font-size:10.6px;line-height:10.6px;color:#000000;transform:scaleX(0.9669);">S</span>
<div style="left:739px;top:249.7px;width:1px;height:11.2px;background:#000000;opacity:0.55"></div>
<span style="left:778.99px;top:250.02px;font-size:10.6px;line-height:10.6px;color:#000000;transform:scaleX(1.0283);-webkit-text-stroke:0.1px #000000;">250.00</span>
<span style="left:824.93px;top:249.72px;font-size:10.6px;line-height:10.6px;color:#000000;transform:scaleX(0.9669);">S</span>
<div style="left:828px;top:249.7px;width:1px;height:11.2px;background:#000000;opacity:0.55"></div>
<span style="left:867.99px;top:250.02px;font-size:10.6px;line-height:10.6px;color:#000000;transform:scaleX(1.0283);-webkit-text-stroke:0.1px #000000;">250.00</span>
<span style="left:937.13px;top:249.72px;font-size:10.6px;line-height:10.6px;color:#000000;transform:scaleX(0.9669);">S</span>
<div style="left:940px;top:249.7px;width:1px;height:11.2px;background:#000000;opacity:0.55"></div>
<div style="left:997px;top:255px;width:3px;height:2px;background:rgba(0,0,0,0.45)"></div>
<span style="left:541.11px;top:268.33px;font-size:10.0px;line-height:10.0px;color:#000000;transform:scaleX(0.7677);">UTILITIES</span>
<span style="left:735.93px;top:267.72px;font-size:10.6px;line-height:10.6px;color:#000000;transform:scaleX(0.9669);">S</span>
<div style="left:739px;top:267.7px;width:1px;height:11.2px;background:#000000;opacity:0.55"></div>
<span style="left:769.60px;top:268.02px;font-size:10.6px;line-height:10.6px;color:#000000;transform:scaleX(1.0356);-webkit-text-stroke:0.1px #000000;">1,500.00</span>
<span style="left:824.93px;top:267.72px;font-size:10.6px;line-height:10.6px;color:#000000;transform:scaleX(0.9669);">S</span>
<div style="left:828px;top:267.7px;width:1px;height:11.2px;background:#000000;opacity:0.55"></div>
<span style="left:858.60px;top:268.02px;font-size:10.6px;line-height:10.6px;color:#000000;transform:scaleX(1.0356);-webkit-text-stroke:0.1px #000000;">1,100.00</span>
<span style="left:937.13px;top:267.72px;font-size:10.6px;line-height:10.6px;color:#000000;transform:scaleX(0.9669);">S</span>
<div style="left:940px;top:267.7px;width:1px;height:11.2px;background:#000000;opacity:0.55"></div>
<span style="left:980.19px;top:268.02px;font-size:10.6px;line-height:10.6px;color:#000000;transform:scaleX(1.0189);-webkit-text-stroke:0.1px #000000;">400.00</span>
<span style="left:541.29px;top:286.33px;font-size:10.0px;line-height:10.0px;color:#000000;transform:scaleX(0.8640);">OTHER</span>
<span style="left:735.93px;top:285.72px;font-size:10.6px;line-height:10.6px;color:#000000;transform:scaleX(0.9669);">S</span>
<div style="left:739px;top:285.7px;width:1px;height:11.2px;background:#000000;opacity:0.55"></div>
<div style="left:796px;top:291px;width:3px;height:2px;background:rgba(0,0,0,0.45)"></div>
<span style="left:824.93px;top:285.72px;font-size:10.6px;line-height:10.6px;color:#000000;transform:scaleX(0.9669);">S</span>
<div style="left:828px;top:285.7px;width:1px;height:11.2px;background:#000000;opacity:0.55"></div>
<div style="left:885px;top:291px;width:3px;height:2px;background:rgba(0,0,0,0.45)"></div>
<span style="left:937.13px;top:285.72px;font-size:10.6px;line-height:10.6px;color:#000000;transform:scaleX(0.9669);">S</span>
<div style="left:940px;top:285.7px;width:1px;height:11.2px;background:#000000;opacity:0.55"></div>
<div style="left:997px;top:291px;width:3px;height:2px;background:rgba(0,0,0,0.45)"></div>
<span style="left:541.29px;top:304.33px;font-size:10.0px;line-height:10.0px;color:#000000;transform:scaleX(0.8640);">OTHER</span>
<span style="left:735.93px;top:303.72px;font-size:10.6px;line-height:10.6px;color:#000000;transform:scaleX(0.9669);">S</span>
<div style="left:739px;top:303.7px;width:1px;height:11.2px;background:#000000;opacity:0.55"></div>
<div style="left:796px;top:309px;width:3px;height:2px;background:rgba(0,0,0,0.45)"></div>
<span style="left:824.93px;top:303.72px;font-size:10.6px;line-height:10.6px;color:#000000;transform:scaleX(0.9669);">S</span>
<div style="left:828px;top:303.7px;width:1px;height:11.2px;background:#000000;opacity:0.55"></div>
<div style="left:885px;top:309px;width:3px;height:2px;background:rgba(0,0,0,0.45)"></div>
<span style="left:937.13px;top:303.72px;font-size:10.6px;line-height:10.6px;color:#000000;transform:scaleX(0.9669);">S</span>
<div style="left:940px;top:303.7px;width:1px;height:11.2px;background:#000000;opacity:0.55"></div>
<div style="left:997px;top:309px;width:3px;height:2px;background:rgba(0,0,0,0.45)"></div>
<span style="left:541.29px;top:322.33px;font-size:10.0px;line-height:10.0px;color:#000000;transform:scaleX(0.8640);">OTHER</span>
<span style="left:735.93px;top:321.72px;font-size:10.6px;line-height:10.6px;color:#000000;transform:scaleX(0.9669);">S</span>
<div style="left:739px;top:321.7px;width:1px;height:11.2px;background:#000000;opacity:0.55"></div>
<div style="left:796px;top:327px;width:3px;height:2px;background:rgba(0,0,0,0.45)"></div>
<span style="left:824.93px;top:321.72px;font-size:10.6px;line-height:10.6px;color:#000000;transform:scaleX(0.9669);">S</span>
<div style="left:828px;top:321.7px;width:1px;height:11.2px;background:#000000;opacity:0.55"></div>
<div style="left:885px;top:327px;width:3px;height:2px;background:rgba(0,0,0,0.45)"></div>
<span style="left:937.13px;top:321.72px;font-size:10.6px;line-height:10.6px;color:#000000;transform:scaleX(0.9669);">S</span>
<div style="left:940px;top:321.7px;width:1px;height:11.2px;background:#000000;opacity:0.55"></div>
<div style="left:997px;top:327px;width:3px;height:2px;background:rgba(0,0,0,0.45)"></div>
<span style="left:541.29px;top:340.33px;font-size:10.0px;line-height:10.0px;color:#000000;transform:scaleX(0.8640);">OTHER</span>
<span style="left:735.93px;top:339.72px;font-size:10.6px;line-height:10.6px;color:#000000;transform:scaleX(0.9669);">S</span>
<div style="left:739px;top:339.7px;width:1px;height:11.2px;background:#000000;opacity:0.55"></div>
<div style="left:796px;top:345px;width:3px;height:2px;background:rgba(0,0,0,0.45)"></div>
<span style="left:824.93px;top:339.72px;font-size:10.6px;line-height:10.6px;color:#000000;transform:scaleX(0.9669);">S</span>
<div style="left:828px;top:339.7px;width:1px;height:11.2px;background:#000000;opacity:0.55"></div>
<div style="left:885px;top:345px;width:3px;height:2px;background:rgba(0,0,0,0.45)"></div>
<span style="left:937.13px;top:339.72px;font-size:10.6px;line-height:10.6px;color:#000000;transform:scaleX(0.9669);">S</span>
<div style="left:940px;top:339.7px;width:1px;height:11.2px;background:#000000;opacity:0.55"></div>
<div style="left:997px;top:345px;width:3px;height:2px;background:rgba(0,0,0,0.45)"></div>
<span style="left:541.29px;top:358.33px;font-size:10.0px;line-height:10.0px;color:#000000;transform:scaleX(0.8640);">OTHER</span>
<span style="left:735.93px;top:357.72px;font-size:10.6px;line-height:10.6px;color:#000000;transform:scaleX(0.9669);">S</span>
<div style="left:739px;top:357.7px;width:1px;height:11.2px;background:#000000;opacity:0.55"></div>
<div style="left:796px;top:363px;width:3px;height:2px;background:rgba(0,0,0,0.45)"></div>
<span style="left:824.93px;top:357.72px;font-size:10.6px;line-height:10.6px;color:#000000;transform:scaleX(0.9669);">S</span>
<div style="left:828px;top:357.7px;width:1px;height:11.2px;background:#000000;opacity:0.55"></div>
<div style="left:885px;top:363px;width:3px;height:2px;background:rgba(0,0,0,0.45)"></div>
<span style="left:937.13px;top:357.72px;font-size:10.6px;line-height:10.6px;color:#000000;transform:scaleX(0.9669);">S</span>
<div style="left:940px;top:357.7px;width:1px;height:11.2px;background:#000000;opacity:0.55"></div>
<div style="left:997px;top:363px;width:3px;height:2px;background:rgba(0,0,0,0.45)"></div>
<div style="left:729px;top:372px;width:178px;height:17px;background:#D6DCE4;"></div>
<span style="left:735.93px;top:375.72px;font-size:10.6px;line-height:10.6px;color:#000000;transform:scaleX(0.9669);">S</span>
<div style="left:739px;top:375.7px;width:1px;height:11.2px;background:#000000;opacity:0.55"></div>
<span style="left:770.00px;top:376.02px;font-size:10.6px;line-height:10.6px;color:#000000;transform:scaleX(1.0258);-webkit-text-stroke:0.1px #000000;">5,250.00</span>
<span style="left:824.93px;top:375.72px;font-size:10.6px;line-height:10.6px;color:#000000;transform:scaleX(0.9669);">S</span>
<div style="left:828px;top:375.7px;width:1px;height:11.2px;background:#000000;opacity:0.55"></div>
<span style="left:859.19px;top:376.02px;font-size:10.6px;line-height:10.6px;color:#000000;transform:scaleX(1.0212);-webkit-text-stroke:0.1px #000000;">4,850.00</span>
<span style="left:540.65px;top:392.68px;font-size:11.6px;line-height:11.6px;font-weight:bold;color:#000000;transform:scaleX(0.8358);">PROFESSIONAL SERVICES</span>
<div style="left:729px;top:407px;width:178px;height:252px;background:#FFFFFF;"></div>
<div style="left:729px;top:407px;width:179px;height:0;border-top:1px dotted #8C8C8C"></div>
<div style="left:729px;top:425px;width:179px;height:0;border-top:1px dotted #8C8C8C"></div>
<div style="left:729px;top:443px;width:179px;height:0;border-top:1px dotted #8C8C8C"></div>
<div style="left:729px;top:461px;width:179px;height:0;border-top:1px dotted #8C8C8C"></div>
<div style="left:729px;top:479px;width:179px;height:0;border-top:1px dotted #8C8C8C"></div>
<div style="left:729px;top:497px;width:179px;height:0;border-top:1px dotted #8C8C8C"></div>
<div style="left:729px;top:515px;width:179px;height:0;border-top:1px dotted #8C8C8C"></div>
<div style="left:729px;top:533px;width:179px;height:0;border-top:1px dotted #8C8C8C"></div>
<div style="left:729px;top:551px;width:179px;height:0;border-top:1px dotted #8C8C8C"></div>
<div style="left:729px;top:569px;width:179px;height:0;border-top:1px dotted #8C8C8C"></div>
<div style="left:729px;top:587px;width:179px;height:0;border-top:1px dotted #8C8C8C"></div>
<div style="left:729px;top:605px;width:179px;height:0;border-top:1px dotted #8C8C8C"></div>
<div style="left:729px;top:623px;width:179px;height:0;border-top:1px dotted #8C8C8C"></div>
<div style="left:729px;top:641px;width:179px;height:0;border-top:1px dotted #8C8C8C"></div>
<div style="left:729px;top:659px;width:179px;height:0;border-top:1px dotted #8C8C8C"></div>
<div style="left:729px;top:407px;width:0;height:253px;border-left:1px dotted #8C8C8C"></div>
<div style="left:818px;top:407px;width:0;height:253px;border-left:1px dotted #8C8C8C"></div>
<div style="left:907px;top:407px;width:0;height:253px;border-left:1px dotted #8C8C8C"></div>
<span style="left:541.68px;top:412.33px;font-size:10.0px;line-height:10.0px;color:#000000;transform:scaleX(0.9964);">ACCOUNTING</span>
<span style="left:735.93px;top:411.72px;font-size:10.6px;line-height:10.6px;color:#000000;transform:scaleX(0.9669);">S</span>
<div style="left:739px;top:411.7px;width:1px;height:11.2px;background:#000000;opacity:0.55"></div>
<span style="left:779.10px;top:412.02px;font-size:10.6px;line-height:10.6px;color:#000000;transform:scaleX(1.0248);-webkit-text-stroke:0.1px #000000;">500.00</span>
<span style="left:824.93px;top:411.72px;font-size:10.6px;line-height:10.6px;color:#000000;transform:scaleX(0.9669);">S</span>
<div style="left:828px;top:411.7px;width:1px;height:11.2px;background:#000000;opacity:0.55"></div>
<span style="left:868.10px;top:412.02px;font-size:10.6px;line-height:10.6px;color:#000000;transform:scaleX(1.0248);-webkit-text-stroke:0.1px #000000;">500.00</span>
<span style="left:937.13px;top:411.72px;font-size:10.6px;line-height:10.6px;color:#000000;transform:scaleX(0.9669);">S</span>
<div style="left:940px;top:411.7px;width:1px;height:11.2px;background:#000000;opacity:0.55"></div>
<div style="left:997px;top:417px;width:3px;height:2px;background:rgba(0,0,0,0.45)"></div>
<span style="left:540.94px;top:430.33px;font-size:10.0px;line-height:10.0px;color:#000000;transform:scaleX(0.9313);">LEGAL</span>
<span style="left:735.93px;top:429.72px;font-size:10.6px;line-height:10.6px;color:#000000;transform:scaleX(0.9669);">S</span>
<div style="left:739px;top:429.7px;width:1px;height:11.2px;background:#000000;opacity:0.55"></div>
<span style="left:779.12px;top:430.02px;font-size:10.6px;line-height:10.6px;color:#000000;transform:scaleX(1.0241);-webkit-text-stroke:0.1px #000000;">300.00</span>
<span style="left:824.93px;top:429.72px;font-size:10.6px;line-height:10.6px;color:#000000;transform:scaleX(0.9669);">S</span>
<div style="left:828px;top:429.7px;width:1px;height:11.2px;background:#000000;opacity:0.55"></div>
<span style="left:867.99px;top:430.02px;font-size:10.6px;line-height:10.6px;color:#000000;transform:scaleX(1.0283);-webkit-text-stroke:0.1px #000000;">250.00</span>
<span style="left:937.13px;top:429.72px;font-size:10.6px;line-height:10.6px;color:#000000;transform:scaleX(0.9669);">S</span>
<div style="left:940px;top:429.7px;width:1px;height:11.2px;background:#000000;opacity:0.55"></div>
<span style="left:986.07px;top:430.02px;font-size:10.6px;line-height:10.6px;color:#000000;transform:scaleX(1.0238);-webkit-text-stroke:0.1px #000000;">50.00</span>
<span style="left:541.24px;top:448.33px;font-size:10.0px;line-height:10.0px;color:#000000;transform:scaleX(0.8975);">CONSULTANTS</span>
<span style="left:735.93px;top:447.72px;font-size:10.6px;line-height:10.6px;color:#000000;transform:scaleX(0.9669);">S</span>
<div style="left:739px;top:447.7px;width:1px;height:11.2px;background:#000000;opacity:0.55"></div>
<span style="left:779.10px;top:448.02px;font-size:10.6px;line-height:10.6px;color:#000000;transform:scaleX(1.0248);-webkit-text-stroke:0.1px #000000;">500.00</span>
<span style="left:824.93px;top:447.72px;font-size:10.6px;line-height:10.6px;color:#000000;transform:scaleX(0.9669);">S</span>
<div style="left:828px;top:447.7px;width:1px;height:11.2px;background:#000000;opacity:0.55"></div>
<span style="left:868.29px;top:448.02px;font-size:10.6px;line-height:10.6px;color:#000000;transform:scaleX(1.0189);-webkit-text-stroke:0.1px #000000;">400.00</span>
<span style="left:937.13px;top:447.72px;font-size:10.6px;line-height:10.6px;color:#000000;transform:scaleX(0.9669);">S</span>
<div style="left:940px;top:447.7px;width:1px;height:11.2px;background:#000000;opacity:0.55"></div>
<span style="left:979.60px;top:448.02px;font-size:10.6px;line-height:10.6px;color:#000000;transform:scaleX(1.0373);-webkit-text-stroke:0.1px #000000;">100.00</span>
<span style="left:541.22px;top:466.33px;font-size:10.0px;line-height:10.0px;color:#000000;transform:scaleX(0.9394);">CATERING</span>
<span style="left:735.93px;top:465.72px;font-size:10.6px;line-height:10.6px;color:#000000;transform:scaleX(0.9669);">S</span>
<div style="left:739px;top:465.7px;width:1px;height:11.2px;background:#000000;opacity:0.55"></div>
<span style="left:779.10px;top:466.02px;font-size:10.6px;line-height:10.6px;color:#000000;transform:scaleX(1.0248);-webkit-text-stroke:0.1px #000000;">500.00</span>
<span style="left:824.93px;top:465.72px;font-size:10.6px;line-height:10.6px;color:#000000;transform:scaleX(0.9669);">S</span>
<div style="left:828px;top:465.7px;width:1px;height:11.2px;background:#000000;opacity:0.55"></div>
<span style="left:868.10px;top:466.02px;font-size:10.6px;line-height:10.6px;color:#000000;transform:scaleX(1.0248);-webkit-text-stroke:0.1px #000000;">500.00</span>
<span style="left:937.13px;top:465.72px;font-size:10.6px;line-height:10.6px;color:#000000;transform:scaleX(0.9669);">S</span>
<div style="left:940px;top:465.7px;width:1px;height:11.2px;background:#000000;opacity:0.55"></div>
<div style="left:997px;top:471px;width:3px;height:2px;background:rgba(0,0,0,0.45)"></div>
<span style="left:541.23px;top:484.33px;font-size:10.0px;line-height:10.0px;color:#000000;transform:scaleX(0.9216);">CUSTODIAL</span>
<span style="left:735.93px;top:483.72px;font-size:10.6px;line-height:10.6px;color:#000000;transform:scaleX(0.9669);">S</span>
<div style="left:739px;top:483.7px;width:1px;height:11.2px;background:#000000;opacity:0.55"></div>
<span style="left:770.19px;top:484.02px;font-size:10.6px;line-height:10.6px;color:#000000;transform:scaleX(1.0212);-webkit-text-stroke:0.1px #000000;">4,500.00</span>
<span style="left:824.93px;top:483.72px;font-size:10.6px;line-height:10.6px;color:#000000;transform:scaleX(0.9669);">S</span>
<div style="left:828px;top:483.7px;width:1px;height:11.2px;background:#000000;opacity:0.55"></div>
<span style="left:858.88px;top:484.02px;font-size:10.6px;line-height:10.6px;color:#000000;transform:scaleX(1.0287);-webkit-text-stroke:0.1px #000000;">6,000.00</span>
<span style="left:937.13px;top:483.72px;font-size:10.6px;line-height:10.6px;color:#B0101C;transform:scaleX(0.9669);">S</span>
<div style="left:940px;top:483.7px;width:1px;height:11.2px;background:#B0101C;opacity:0.55"></div>
<span style="left:967.68px;top:484.02px;font-size:10.6px;line-height:10.6px;color:#B0101C;transform:scaleX(1.0200);-webkit-text-stroke:0.1px #B0101C;">(1,500.00)</span>
<span style="left:540.91px;top:502.33px;font-size:10.0px;line-height:10.0px;color:#000000;transform:scaleX(0.9614);">MAINTENANCE</span>
<span style="left:735.93px;top:501.72px;font-size:10.6px;line-height:10.6px;color:#000000;transform:scaleX(0.9669);">S</span>
<div style="left:739px;top:501.7px;width:1px;height:11.2px;background:#000000;opacity:0.55"></div>
<span style="left:769.89px;top:502.02px;font-size:10.6px;line-height:10.6px;color:#000000;transform:scaleX(1.0285);-webkit-text-stroke:0.1px #000000;">2,500.00</span>
<span style="left:824.93px;top:501.72px;font-size:10.6px;line-height:10.6px;color:#000000;transform:scaleX(0.9669);">S</span>
<div style="left:828px;top:501.7px;width:1px;height:11.2px;background:#000000;opacity:0.55"></div>
<span style="left:858.89px;top:502.02px;font-size:10.6px;line-height:10.6px;color:#000000;transform:scaleX(1.0285);-webkit-text-stroke:0.1px #000000;">2,500.00</span>
<span style="left:937.13px;top:501.72px;font-size:10.6px;line-height:10.6px;color:#000000;transform:scaleX(0.9669);">S</span>
<div style="left:940px;top:501.7px;width:1px;height:11.2px;background:#000000;opacity:0.55"></div>
<div style="left:997px;top:507px;width:3px;height:2px;background:rgba(0,0,0,0.45)"></div>
<span style="left:541.50px;top:520.33px;font-size:10.0px;line-height:10.0px;color:#000000;transform:scaleX(0.8985);">TRANSPORTATION</span>
<span style="left:735.93px;top:519.72px;font-size:10.6px;line-height:10.6px;color:#000000;transform:scaleX(0.9669);">S</span>
<div style="left:739px;top:519.7px;width:1px;height:11.2px;background:#000000;opacity:0.55"></div>
<span style="left:770.19px;top:520.02px;font-size:10.6px;line-height:10.6px;color:#000000;transform:scaleX(1.0212);-webkit-text-stroke:0.1px #000000;">4,500.00</span>
<span style="left:824.93px;top:519.72px;font-size:10.6px;line-height:10.6px;color:#000000;transform:scaleX(0.9669);">S</span>
<div style="left:828px;top:519.7px;width:1px;height:11.2px;background:#000000;opacity:0.55"></div>
<span style="left:859.19px;top:520.02px;font-size:10.6px;line-height:10.6px;color:#000000;transform:scaleX(1.0212);-webkit-text-stroke:0.1px #000000;">4,500.00</span>
<span style="left:937.13px;top:519.72px;font-size:10.6px;line-height:10.6px;color:#000000;transform:scaleX(0.9669);">S</span>
<div style="left:940px;top:519.7px;width:1px;height:11.2px;background:#000000;opacity:0.55"></div>
<div style="left:997px;top:525px;width:3px;height:2px;background:rgba(0,0,0,0.45)"></div>
<span style="left:540.93px;top:538.33px;font-size:10.0px;line-height:10.0px;color:#000000;transform:scaleX(0.9385);">EXTERIOR / LANDSCAPING</span>
<span style="left:735.93px;top:537.72px;font-size:10.6px;line-height:10.6px;color:#000000;transform:scaleX(0.9669);">S</span>
<div style="left:739px;top:537.7px;width:1px;height:11.2px;background:#000000;opacity:0.55"></div>
<span style="left:779.29px;top:538.02px;font-size:10.6px;line-height:10.6px;color:#000000;transform:scaleX(1.0189);-webkit-text-stroke:0.1px #000000;">450.00</span>
<span style="left:824.93px;top:537.72px;font-size:10.6px;line-height:10.6px;color:#000000;transform:scaleX(0.9669);">S</span>
<div style="left:828px;top:537.7px;width:1px;height:11.2px;background:#000000;opacity:0.55"></div>
<span style="left:868.10px;top:538.02px;font-size:10.6px;line-height:10.6px;color:#000000;transform:scaleX(1.0248);-webkit-text-stroke:0.1px #000000;">500.00</span>
<span style="left:937.13px;top:537.72px;font-size:10.6px;line-height:10.6px;color:#B0101C;transform:scaleX(0.9669);">S</span>
<div style="left:940px;top:537.7px;width:1px;height:11.2px;background:#B0101C;opacity:0.55"></div>
<span style="left:982.85px;top:538.02px;font-size:10.6px;line-height:10.6px;color:#B0101C;transform:scaleX(1.0158);-webkit-text-stroke:0.1px #B0101C;">(50.00)</span>
<span style="left:540.94px;top:556.33px;font-size:10.0px;line-height:10.0px;color:#000000;transform:scaleX(0.9255);">LAUNDRY</span>
<span style="left:735.93px;top:555.72px;font-size:10.6px;line-height:10.6px;color:#000000;transform:scaleX(0.9669);">S</span>
<div style="left:739px;top:555.7px;width:1px;height:11.2px;background:#000000;opacity:0.55"></div>
<span style="left:779.29px;top:556.02px;font-size:10.6px;line-height:10.6px;color:#000000;transform:scaleX(1.0189);-webkit-text-stroke:0.1px #000000;">450.00</span>
<span style="left:824.93px;top:555.72px;font-size:10.6px;line-height:10.6px;color:#000000;transform:scaleX(0.9669);">S</span>
<div style="left:828px;top:555.7px;width:1px;height:11.2px;background:#000000;opacity:0.55"></div>
<span style="left:868.10px;top:556.02px;font-size:10.6px;line-height:10.6px;color:#000000;transform:scaleX(1.0248);-webkit-text-stroke:0.1px #000000;">500.00</span>
<span style="left:937.13px;top:555.72px;font-size:10.6px;line-height:10.6px;color:#B0101C;transform:scaleX(0.9669);">S</span>
<div style="left:940px;top:555.7px;width:1px;height:11.2px;background:#B0101C;opacity:0.55"></div>
<span style="left:982.85px;top:556.02px;font-size:10.6px;line-height:10.6px;color:#B0101C;transform:scaleX(1.0158);-webkit-text-stroke:0.1px #B0101C;">(50.00)</span>
<span style="left:541.32px;top:574.33px;font-size:10.0px;line-height:10.0px;color:#000000;transform:scaleX(0.8307);">SECURITY</span>
<span style="left:735.93px;top:573.72px;font-size:10.6px;line-height:10.6px;color:#000000;transform:scaleX(0.9669);">S</span>
<div style="left:739px;top:573.7px;width:1px;height:11.2px;background:#000000;opacity:0.55"></div>
<span style="left:769.60px;top:574.02px;font-size:10.6px;line-height:10.6px;color:#000000;transform:scaleX(1.0356);-webkit-text-stroke:0.1px #000000;">1,100.00</span>
<span style="left:824.93px;top:573.72px;font-size:10.6px;line-height:10.6px;color:#000000;transform:scaleX(0.9669);">S</span>
<div style="left:828px;top:573.7px;width:1px;height:11.2px;background:#000000;opacity:0.55"></div>
<span style="left:858.60px;top:574.02px;font-size:10.6px;line-height:10.6px;color:#000000;transform:scaleX(1.0356);-webkit-text-stroke:0.1px #000000;">1,500.00</span>
<span style="left:937.13px;top:573.72px;font-size:10.6px;line-height:10.6px;color:#B0101C;transform:scaleX(0.9669);">S</span>
<div style="left:940px;top:573.7px;width:1px;height:11.2px;background:#B0101C;opacity:0.55"></div>
<span style="left:976.79px;top:574.02px;font-size:10.6px;line-height:10.6px;color:#B0101C;transform:scaleX(1.0178);-webkit-text-stroke:0.1px #B0101C;">(400.00)</span>
<span style="left:541.29px;top:592.33px;font-size:10.0px;line-height:10.0px;color:#000000;transform:scaleX(0.8640);">OTHER</span>
<span style="left:735.93px;top:591.72px;font-size:10.6px;line-height:10.6px;color:#000000;transform:scaleX(0.9669);">S</span>
<div style="left:739px;top:591.7px;width:1px;height:11.2px;background:#000000;opacity:0.55"></div>
<div style="left:796px;top:597px;width:3px;height:2px;background:rgba(0,0,0,0.45)"></div>
<span style="left:824.93px;top:591.72px;font-size:10.6px;line-height:10.6px;color:#000000;transform:scaleX(0.9669);">S</span>
<div style="left:828px;top:591.7px;width:1px;height:11.2px;background:#000000;opacity:0.55"></div>
<div style="left:885px;top:597px;width:3px;height:2px;background:rgba(0,0,0,0.45)"></div>
<span style="left:937.13px;top:591.72px;font-size:10.6px;line-height:10.6px;color:#000000;transform:scaleX(0.9669);">S</span>
<div style="left:940px;top:591.7px;width:1px;height:11.2px;background:#000000;opacity:0.55"></div>
<div style="left:997px;top:597px;width:3px;height:2px;background:rgba(0,0,0,0.45)"></div>
<span style="left:541.29px;top:610.33px;font-size:10.0px;line-height:10.0px;color:#000000;transform:scaleX(0.8640);">OTHER</span>
<span style="left:735.93px;top:609.72px;font-size:10.6px;line-height:10.6px;color:#000000;transform:scaleX(0.9669);">S</span>
<div style="left:739px;top:609.7px;width:1px;height:11.2px;background:#000000;opacity:0.55"></div>
<div style="left:796px;top:615px;width:3px;height:2px;background:rgba(0,0,0,0.45)"></div>
<span style="left:824.93px;top:609.72px;font-size:10.6px;line-height:10.6px;color:#000000;transform:scaleX(0.9669);">S</span>
<div style="left:828px;top:609.7px;width:1px;height:11.2px;background:#000000;opacity:0.55"></div>
<div style="left:885px;top:615px;width:3px;height:2px;background:rgba(0,0,0,0.45)"></div>
<span style="left:937.13px;top:609.72px;font-size:10.6px;line-height:10.6px;color:#000000;transform:scaleX(0.9669);">S</span>
<div style="left:940px;top:609.7px;width:1px;height:11.2px;background:#000000;opacity:0.55"></div>
<div style="left:997px;top:615px;width:3px;height:2px;background:rgba(0,0,0,0.45)"></div>
<span style="left:541.29px;top:628.33px;font-size:10.0px;line-height:10.0px;color:#000000;transform:scaleX(0.8640);">OTHER</span>
<span style="left:735.93px;top:627.72px;font-size:10.6px;line-height:10.6px;color:#000000;transform:scaleX(0.9669);">S</span>
<div style="left:739px;top:627.7px;width:1px;height:11.2px;background:#000000;opacity:0.55"></div>
<div style="left:796px;top:633px;width:3px;height:2px;background:rgba(0,0,0,0.45)"></div>
<span style="left:824.93px;top:627.72px;font-size:10.6px;line-height:10.6px;color:#000000;transform:scaleX(0.9669);">S</span>
<div style="left:828px;top:627.7px;width:1px;height:11.2px;background:#000000;opacity:0.55"></div>
<div style="left:885px;top:633px;width:3px;height:2px;background:rgba(0,0,0,0.45)"></div>
<span style="left:937.13px;top:627.72px;font-size:10.6px;line-height:10.6px;color:#000000;transform:scaleX(0.9669);">S</span>
<div style="left:940px;top:627.7px;width:1px;height:11.2px;background:#000000;opacity:0.55"></div>
<div style="left:997px;top:633px;width:3px;height:2px;background:rgba(0,0,0,0.45)"></div>
<span style="left:541.29px;top:646.33px;font-size:10.0px;line-height:10.0px;color:#000000;transform:scaleX(0.8640);">OTHER</span>
<span style="left:735.93px;top:645.72px;font-size:10.6px;line-height:10.6px;color:#000000;transform:scaleX(0.9669);">S</span>
<div style="left:739px;top:645.7px;width:1px;height:11.2px;background:#000000;opacity:0.55"></div>
<div style="left:796px;top:651px;width:3px;height:2px;background:rgba(0,0,0,0.45)"></div>
<span style="left:824.93px;top:645.72px;font-size:10.6px;line-height:10.6px;color:#000000;transform:scaleX(0.9669);">S</span>
<div style="left:828px;top:645.7px;width:1px;height:11.2px;background:#000000;opacity:0.55"></div>
<div style="left:885px;top:651px;width:3px;height:2px;background:rgba(0,0,0,0.45)"></div>
<span style="left:937.13px;top:645.72px;font-size:10.6px;line-height:10.6px;color:#000000;transform:scaleX(0.9669);">S</span>
<div style="left:940px;top:645.7px;width:1px;height:11.2px;background:#000000;opacity:0.55"></div>
<div style="left:997px;top:651px;width:3px;height:2px;background:rgba(0,0,0,0.45)"></div>
<div style="left:729px;top:660px;width:178px;height:17px;background:#D6DCE4;"></div>
<span style="left:735.93px;top:663.72px;font-size:10.6px;line-height:10.6px;color:#000000;transform:scaleX(0.9669);">S</span>
<div style="left:739px;top:663.7px;width:1px;height:11.2px;background:#000000;opacity:0.55"></div>
<span style="left:763.53px;top:664.02px;font-size:10.6px;line-height:10.6px;color:#000000;transform:scaleX(1.0347);-webkit-text-stroke:0.1px #000000;">15,300.00</span>
<span style="left:824.93px;top:663.72px;font-size:10.6px;line-height:10.6px;color:#000000;transform:scaleX(0.9669);">S</span>
<div style="left:828px;top:663.7px;width:1px;height:11.2px;background:#000000;opacity:0.55"></div>
<span style="left:852.53px;top:664.02px;font-size:10.6px;line-height:10.6px;color:#000000;transform:scaleX(1.0347);-webkit-text-stroke:0.1px #000000;">17,150.00</span>
<span style="left:540.66px;top:680.68px;font-size:11.6px;line-height:11.6px;font-weight:bold;color:#000000;transform:scaleX(0.8215);">EMPLOYEES</span>
<div style="left:729px;top:695px;width:178px;height:216px;background:#FFFFFF;"></div>
<div style="left:729px;top:695px;width:179px;height:0;border-top:1px dotted #8C8C8C"></div>
<div style="left:729px;top:713px;width:179px;height:0;border-top:1px dotted #8C8C8C"></div>
<div style="left:729px;top:731px;width:179px;height:0;border-top:1px dotted #8C8C8C"></div>
<div style="left:729px;top:749px;width:179px;height:0;border-top:1px dotted #8C8C8C"></div>
<div style="left:729px;top:767px;width:179px;height:0;border-top:1px dotted #8C8C8C"></div>
<div style="left:729px;top:785px;width:179px;height:0;border-top:1px dotted #8C8C8C"></div>
<div style="left:729px;top:803px;width:179px;height:0;border-top:1px dotted #8C8C8C"></div>
<div style="left:729px;top:821px;width:179px;height:0;border-top:1px dotted #8C8C8C"></div>
<div style="left:729px;top:839px;width:179px;height:0;border-top:1px dotted #8C8C8C"></div>
<div style="left:729px;top:857px;width:179px;height:0;border-top:1px dotted #8C8C8C"></div>
<div style="left:729px;top:875px;width:179px;height:0;border-top:1px dotted #8C8C8C"></div>
<div style="left:729px;top:893px;width:179px;height:0;border-top:1px dotted #8C8C8C"></div>
<div style="left:729px;top:911px;width:179px;height:0;border-top:1px dotted #8C8C8C"></div>
<div style="left:729px;top:695px;width:0;height:217px;border-left:1px dotted #8C8C8C"></div>
<div style="left:818px;top:695px;width:0;height:217px;border-left:1px dotted #8C8C8C"></div>
<div style="left:907px;top:695px;width:0;height:217px;border-left:1px dotted #8C8C8C"></div>
<span style="left:541.30px;top:700.33px;font-size:10.0px;line-height:10.0px;color:#000000;transform:scaleX(0.8900);">SALARIES - OWNERS</span>
<span style="left:735.93px;top:699.72px;font-size:10.6px;line-height:10.6px;color:#000000;transform:scaleX(0.9669);">S</span>
<div style="left:739px;top:699.7px;width:1px;height:11.2px;background:#000000;opacity:0.55"></div>
<span style="left:763.96px;top:700.02px;font-size:10.6px;line-height:10.6px;color:#000000;transform:scaleX(1.0257);-webkit-text-stroke:0.1px #000000;">30,000.00</span>
<span style="left:824.93px;top:699.72px;font-size:10.6px;line-height:10.6px;color:#000000;transform:scaleX(0.9669);">S</span>
<div style="left:828px;top:699.7px;width:1px;height:11.2px;background:#000000;opacity:0.55"></div>
<span style="left:852.96px;top:700.02px;font-size:10.6px;line-height:10.6px;color:#000000;transform:scaleX(1.0257);-webkit-text-stroke:0.1px #000000;">30,000.00</span>
<span style="left:937.13px;top:699.72px;font-size:10.6px;line-height:10.6px;color:#000000;transform:scaleX(0.9669);">S</span>
<div style="left:940px;top:699.7px;width:1px;height:11.2px;background:#000000;opacity:0.55"></div>
<div style="left:997px;top:705px;width:3px;height:2px;background:rgba(0,0,0,0.45)"></div>
<span style="left:541.30px;top:718.33px;font-size:10.0px;line-height:10.0px;color:#000000;transform:scaleX(0.8741);">SALARIES - EMPLOYEES</span>
<span style="left:735.93px;top:717.72px;font-size:10.6px;line-height:10.6px;color:#000000;transform:scaleX(0.9669);">S</span>
<div style="left:739px;top:717.7px;width:1px;height:11.2px;background:#000000;opacity:0.55"></div>
<span style="left:757.47px;top:718.02px;font-size:10.6px;line-height:10.6px;color:#000000;transform:scaleX(1.0341);-webkit-text-stroke:0.1px #000000;">150,000.00</span>
<span style="left:824.93px;top:717.72px;font-size:10.6px;line-height:10.6px;color:#000000;transform:scaleX(0.9669);">S</span>
<div style="left:828px;top:717.7px;width:1px;height:11.2px;background:#000000;opacity:0.55"></div>
<span style="left:846.47px;top:718.02px;font-size:10.6px;line-height:10.6px;color:#000000;transform:scaleX(1.0341);-webkit-text-stroke:0.1px #000000;">150,000.00</span>
<span style="left:937.13px;top:717.72px;font-size:10.6px;line-height:10.6px;color:#000000;transform:scaleX(0.9669);">S</span>
<div style="left:940px;top:717.7px;width:1px;height:11.2px;background:#000000;opacity:0.55"></div>
<div style="left:997px;top:723px;width:3px;height:2px;background:rgba(0,0,0,0.45)"></div>
<span style="left:541.29px;top:736.33px;font-size:10.0px;line-height:10.0px;color:#000000;transform:scaleX(0.9087);">SALARIES - CONTRACTORS</span>
<span style="left:735.93px;top:735.72px;font-size:10.6px;line-height:10.6px;color:#000000;transform:scaleX(0.9669);">S</span>
<div style="left:739px;top:735.7px;width:1px;height:11.2px;background:#000000;opacity:0.55"></div>
<span style="left:763.82px;top:736.02px;font-size:10.6px;line-height:10.6px;color:#000000;transform:scaleX(1.0287);-webkit-text-stroke:0.1px #000000;">65,000.00</span>
<span style="left:824.93px;top:735.72px;font-size:10.6px;line-height:10.6px;color:#000000;transform:scaleX(0.9669);">S</span>
<div style="left:828px;top:735.7px;width:1px;height:11.2px;background:#000000;opacity:0.55"></div>
<span style="left:852.93px;top:736.02px;font-size:10.6px;line-height:10.6px;color:#000000;transform:scaleX(1.0262);-webkit-text-stroke:0.1px #000000;">50,000.00</span>
<span style="left:937.13px;top:735.72px;font-size:10.6px;line-height:10.6px;color:#000000;transform:scaleX(0.9669);">S</span>
<div style="left:940px;top:735.7px;width:1px;height:11.2px;background:#000000;opacity:0.55"></div>
<span style="left:964.43px;top:736.02px;font-size:10.6px;line-height:10.6px;color:#000000;transform:scaleX(1.0347);-webkit-text-stroke:0.1px #000000;">15,000.00</span>
<span style="left:540.97px;top:754.33px;font-size:10.0px;line-height:10.0px;color:#000000;transform:scaleX(0.8851);">PAYROLL SERVICES</span>
<span style="left:735.93px;top:753.72px;font-size:10.6px;line-height:10.6px;color:#000000;transform:scaleX(0.9669);">S</span>
<div style="left:739px;top:753.7px;width:1px;height:11.2px;background:#000000;opacity:0.55"></div>
<span style="left:779.29px;top:754.02px;font-size:10.6px;line-height:10.6px;color:#000000;transform:scaleX(1.0189);-webkit-text-stroke:0.1px #000000;">450.00</span>
<span style="left:824.93px;top:753.72px;font-size:10.6px;line-height:10.6px;color:#000000;transform:scaleX(0.9669);">S</span>
<div style="left:828px;top:753.7px;width:1px;height:11.2px;background:#000000;opacity:0.55"></div>
<span style="left:868.29px;top:754.02px;font-size:10.6px;line-height:10.6px;color:#000000;transform:scaleX(1.0189);-webkit-text-stroke:0.1px #000000;">450.00</span>
<span style="left:937.13px;top:753.72px;font-size:10.6px;line-height:10.6px;color:#000000;transform:scaleX(0.9669);">S</span>
<div style="left:940px;top:753.7px;width:1px;height:11.2px;background:#000000;opacity:0.55"></div>
<div style="left:997px;top:759px;width:3px;height:2px;background:rgba(0,0,0,0.45)"></div>
<span style="left:540.97px;top:772.33px;font-size:10.0px;line-height:10.0px;color:#000000;transform:scaleX(0.8859);">PAYROLL TAXES</span>
<span style="left:735.93px;top:771.72px;font-size:10.6px;line-height:10.6px;color:#000000;transform:scaleX(0.9669);">S</span>
<div style="left:739px;top:771.7px;width:1px;height:11.2px;background:#000000;opacity:0.55"></div>
<span style="left:769.88px;top:772.02px;font-size:10.6px;line-height:10.6px;color:#000000;transform:scaleX(1.0288);-webkit-text-stroke:0.1px #000000;">7,200.00</span>
<span style="left:824.93px;top:771.72px;font-size:10.6px;line-height:10.6px;color:#000000;transform:scaleX(0.9669);">S</span>
<div style="left:828px;top:771.7px;width:1px;height:11.2px;background:#000000;opacity:0.55"></div>
<span style="left:858.88px;top:772.02px;font-size:10.6px;line-height:10.6px;color:#000000;transform:scaleX(1.0288);-webkit-text-stroke:0.1px #000000;">7,200.00</span>
<span style="left:937.13px;top:771.72px;font-size:10.6px;line-height:10.6px;color:#000000;transform:scaleX(0.9669);">S</span>
<div style="left:940px;top:771.7px;width:1px;height:11.2px;background:#000000;opacity:0.55"></div>
<div style="left:997px;top:777px;width:3px;height:2px;background:rgba(0,0,0,0.45)"></div>
<span style="left:540.96px;top:790.33px;font-size:10.0px;line-height:10.0px;color:#000000;transform:scaleX(0.9039);">HEALTH INSURANCE</span>
<span style="left:735.93px;top:789.72px;font-size:10.6px;line-height:10.6px;color:#000000;transform:scaleX(0.9669);">S</span>
<div style="left:739px;top:789.7px;width:1px;height:11.2px;background:#000000;opacity:0.55"></div>
<span style="left:770.00px;top:790.02px;font-size:10.6px;line-height:10.6px;color:#000000;transform:scaleX(1.0258);-webkit-text-stroke:0.1px #000000;">5,500.00</span>
<span style="left:824.93px;top:789.72px;font-size:10.6px;line-height:10.6px;color:#000000;transform:scaleX(0.9669);">S</span>
<div style="left:828px;top:789.7px;width:1px;height:11.2px;background:#000000;opacity:0.55"></div>
<span style="left:859.00px;top:790.02px;font-size:10.6px;line-height:10.6px;color:#000000;transform:scaleX(1.0258);-webkit-text-stroke:0.1px #000000;">5,500.00</span>
<span style="left:937.13px;top:789.72px;font-size:10.6px;line-height:10.6px;color:#000000;transform:scaleX(0.9669);">S</span>
<div style="left:940px;top:789.7px;width:1px;height:11.2px;background:#000000;opacity:0.55"></div>
<div style="left:997px;top:795px;width:3px;height:2px;background:rgba(0,0,0,0.45)"></div>
<span style="left:541.29px;top:808.33px;font-size:10.0px;line-height:10.0px;color:#000000;transform:scaleX(0.8640);">OTHER</span>
<span style="left:735.93px;top:807.72px;font-size:10.6px;line-height:10.6px;color:#000000;transform:scaleX(0.9669);">S</span>
<div style="left:739px;top:807.7px;width:1px;height:11.2px;background:#000000;opacity:0.55"></div>
<div style="left:796px;top:813px;width:3px;height:2px;background:rgba(0,0,0,0.45)"></div>
<span style="left:824.93px;top:807.72px;font-size:10.6px;line-height:10.6px;color:#000000;transform:scaleX(0.9669);">S</span>
<div style="left:828px;top:807.7px;width:1px;height:11.2px;background:#000000;opacity:0.55"></div>
<div style="left:885px;top:813px;width:3px;height:2px;background:rgba(0,0,0,0.45)"></div>
<span style="left:937.13px;top:807.72px;font-size:10.6px;line-height:10.6px;color:#000000;transform:scaleX(0.9669);">S</span>
<div style="left:940px;top:807.7px;width:1px;height:11.2px;background:#000000;opacity:0.55"></div>
<div style="left:997px;top:813px;width:3px;height:2px;background:rgba(0,0,0,0.45)"></div>
<span style="left:541.29px;top:826.33px;font-size:10.0px;line-height:10.0px;color:#000000;transform:scaleX(0.8640);">OTHER</span>
<span style="left:735.93px;top:825.72px;font-size:10.6px;line-height:10.6px;color:#000000;transform:scaleX(0.9669);">S</span>
<div style="left:739px;top:825.7px;width:1px;height:11.2px;background:#000000;opacity:0.55"></div>
<div style="left:796px;top:831px;width:3px;height:2px;background:rgba(0,0,0,0.45)"></div>
<span style="left:824.93px;top:825.72px;font-size:10.6px;line-height:10.6px;color:#000000;transform:scaleX(0.9669);">S</span>
<div style="left:828px;top:825.7px;width:1px;height:11.2px;background:#000000;opacity:0.55"></div>
<div style="left:885px;top:831px;width:3px;height:2px;background:rgba(0,0,0,0.45)"></div>
<span style="left:937.13px;top:825.72px;font-size:10.6px;line-height:10.6px;color:#000000;transform:scaleX(0.9669);">S</span>
<div style="left:940px;top:825.7px;width:1px;height:11.2px;background:#000000;opacity:0.55"></div>
<div style="left:997px;top:831px;width:3px;height:2px;background:rgba(0,0,0,0.45)"></div>
<span style="left:541.29px;top:844.33px;font-size:10.0px;line-height:10.0px;color:#000000;transform:scaleX(0.8640);">OTHER</span>
<span style="left:735.93px;top:843.72px;font-size:10.6px;line-height:10.6px;color:#000000;transform:scaleX(0.9669);">S</span>
<div style="left:739px;top:843.7px;width:1px;height:11.2px;background:#000000;opacity:0.55"></div>
<div style="left:796px;top:849px;width:3px;height:2px;background:rgba(0,0,0,0.45)"></div>
<span style="left:824.93px;top:843.72px;font-size:10.6px;line-height:10.6px;color:#000000;transform:scaleX(0.9669);">S</span>
<div style="left:828px;top:843.7px;width:1px;height:11.2px;background:#000000;opacity:0.55"></div>
<div style="left:885px;top:849px;width:3px;height:2px;background:rgba(0,0,0,0.45)"></div>
<span style="left:937.13px;top:843.72px;font-size:10.6px;line-height:10.6px;color:#000000;transform:scaleX(0.9669);">S</span>
<div style="left:940px;top:843.7px;width:1px;height:11.2px;background:#000000;opacity:0.55"></div>
<div style="left:997px;top:849px;width:3px;height:2px;background:rgba(0,0,0,0.45)"></div>
<span style="left:541.29px;top:862.33px;font-size:10.0px;line-height:10.0px;color:#000000;transform:scaleX(0.8640);">OTHER</span>
<span style="left:735.93px;top:861.72px;font-size:10.6px;line-height:10.6px;color:#000000;transform:scaleX(0.9669);">S</span>
<div style="left:739px;top:861.7px;width:1px;height:11.2px;background:#000000;opacity:0.55"></div>
<div style="left:796px;top:867px;width:3px;height:2px;background:rgba(0,0,0,0.45)"></div>
<span style="left:824.93px;top:861.72px;font-size:10.6px;line-height:10.6px;color:#000000;transform:scaleX(0.9669);">S</span>
<div style="left:828px;top:861.7px;width:1px;height:11.2px;background:#000000;opacity:0.55"></div>
<div style="left:885px;top:867px;width:3px;height:2px;background:rgba(0,0,0,0.45)"></div>
<span style="left:937.13px;top:861.72px;font-size:10.6px;line-height:10.6px;color:#000000;transform:scaleX(0.9669);">S</span>
<div style="left:940px;top:861.7px;width:1px;height:11.2px;background:#000000;opacity:0.55"></div>
<div style="left:997px;top:867px;width:3px;height:2px;background:rgba(0,0,0,0.45)"></div>
<span style="left:541.29px;top:880.33px;font-size:10.0px;line-height:10.0px;color:#000000;transform:scaleX(0.8640);">OTHER</span>
<span style="left:735.93px;top:879.72px;font-size:10.6px;line-height:10.6px;color:#000000;transform:scaleX(0.9669);">S</span>
<div style="left:739px;top:879.7px;width:1px;height:11.2px;background:#000000;opacity:0.55"></div>
<div style="left:796px;top:885px;width:3px;height:2px;background:rgba(0,0,0,0.45)"></div>
<span style="left:824.93px;top:879.72px;font-size:10.6px;line-height:10.6px;color:#000000;transform:scaleX(0.9669);">S</span>
<div style="left:828px;top:879.7px;width:1px;height:11.2px;background:#000000;opacity:0.55"></div>
<div style="left:885px;top:885px;width:3px;height:2px;background:rgba(0,0,0,0.45)"></div>
<span style="left:937.13px;top:879.72px;font-size:10.6px;line-height:10.6px;color:#000000;transform:scaleX(0.9669);">S</span>
<div style="left:940px;top:879.7px;width:1px;height:11.2px;background:#000000;opacity:0.55"></div>
<div style="left:997px;top:885px;width:3px;height:2px;background:rgba(0,0,0,0.45)"></div>
<span style="left:541.29px;top:898.33px;font-size:10.0px;line-height:10.0px;color:#000000;transform:scaleX(0.8640);">OTHER</span>
<span style="left:735.93px;top:897.72px;font-size:10.6px;line-height:10.6px;color:#000000;transform:scaleX(0.9669);">S</span>
<div style="left:739px;top:897.7px;width:1px;height:11.2px;background:#000000;opacity:0.55"></div>
<div style="left:796px;top:903px;width:3px;height:2px;background:rgba(0,0,0,0.45)"></div>
<span style="left:824.93px;top:897.72px;font-size:10.6px;line-height:10.6px;color:#000000;transform:scaleX(0.9669);">S</span>
<div style="left:828px;top:897.7px;width:1px;height:11.2px;background:#000000;opacity:0.55"></div>
<div style="left:885px;top:903px;width:3px;height:2px;background:rgba(0,0,0,0.45)"></div>
<span style="left:937.13px;top:897.72px;font-size:10.6px;line-height:10.6px;color:#000000;transform:scaleX(0.9669);">S</span>
<div style="left:940px;top:897.7px;width:1px;height:11.2px;background:#000000;opacity:0.55"></div>
<div style="left:997px;top:903px;width:3px;height:2px;background:rgba(0,0,0,0.45)"></div>
<div style="left:21px;top:587px;width:491px;height:342px;background:#E9ECF2;"></div>
<div style="left:21px;top:587px;width:491px;height:36px;background:#D6DCE4;"></div>
<span style="left:34.13px;top:597.42px;font-size:18.4px;line-height:18.4px;color:#000000;transform:scaleX(0.8808);">ONE-TIME EXPENSES</span>
<span style="left:246.17px;top:599.96px;font-size:10.8px;line-height:10.8px;font-weight:bold;color:#000000;transform:scaleX(0.8780);">BUDGET</span>
<span style="left:334.35px;top:599.96px;font-size:10.8px;line-height:10.8px;font-weight:bold;color:#000000;transform:scaleX(0.9363);">ACTUAL</span>
<span style="left:437.05px;top:592.58px;font-size:10.3px;line-height:10.3px;font-weight:bold;color:#000000;transform:scaleX(0.9364);">DIFFERENCE</span>
<span style="left:447.51px;top:608.33px;font-size:8px;line-height:8px;color:#000000;transform:scaleX(0.9952);">( B Less A )</span>
<span style="left:33.05px;top:626.68px;font-size:11.6px;line-height:11.6px;font-weight:bold;color:#000000;transform:scaleX(0.8676);">ADMINISTRATIVE/GENERAL</span>
<div style="left:221px;top:641px;width:178px;height:144px;background:#FFFFFF;"></div>
<div style="left:221px;top:641px;width:179px;height:0;border-top:1px dotted #8C8C8C"></div>
<div style="left:221px;top:659px;width:179px;height:0;border-top:1px dotted #8C8C8C"></div>
<div style="left:221px;top:677px;width:179px;height:0;border-top:1px dotted #8C8C8C"></div>
<div style="left:221px;top:695px;width:179px;height:0;border-top:1px dotted #8C8C8C"></div>
<div style="left:221px;top:713px;width:179px;height:0;border-top:1px dotted #8C8C8C"></div>
<div style="left:221px;top:731px;width:179px;height:0;border-top:1px dotted #8C8C8C"></div>
<div style="left:221px;top:749px;width:179px;height:0;border-top:1px dotted #8C8C8C"></div>
<div style="left:221px;top:767px;width:179px;height:0;border-top:1px dotted #8C8C8C"></div>
<div style="left:221px;top:785px;width:179px;height:0;border-top:1px dotted #8C8C8C"></div>
<div style="left:221px;top:641px;width:0;height:145px;border-left:1px dotted #8C8C8C"></div>
<div style="left:310px;top:641px;width:0;height:145px;border-left:1px dotted #8C8C8C"></div>
<div style="left:399px;top:641px;width:0;height:145px;border-left:1px dotted #8C8C8C"></div>
<span style="left:33.00px;top:646.33px;font-size:10.0px;line-height:10.0px;color:#000000;transform:scaleX(0.8512);">LICENSES</span>
<span style="left:227.93px;top:645.72px;font-size:10.6px;line-height:10.6px;color:#000000;transform:scaleX(0.9669);">S</span>
<div style="left:231px;top:645.7px;width:1px;height:11.2px;background:#000000;opacity:0.55"></div>
<span style="left:270.70px;top:646.02px;font-size:10.6px;line-height:10.6px;color:#000000;transform:scaleX(1.0373);-webkit-text-stroke:0.1px #000000;">150.00</span>
<span style="left:316.93px;top:645.72px;font-size:10.6px;line-height:10.6px;color:#000000;transform:scaleX(0.9669);">S</span>
<div style="left:320px;top:645.7px;width:1px;height:11.2px;background:#000000;opacity:0.55"></div>
<span style="left:359.70px;top:646.02px;font-size:10.6px;line-height:10.6px;color:#000000;transform:scaleX(1.0373);-webkit-text-stroke:0.1px #000000;">100.00</span>
<span style="left:429.13px;top:645.72px;font-size:10.6px;line-height:10.6px;color:#000000;transform:scaleX(0.9669);">S</span>
<div style="left:432px;top:645.7px;width:1px;height:11.2px;background:#000000;opacity:0.55"></div>
<span style="left:478.07px;top:646.02px;font-size:10.6px;line-height:10.6px;color:#000000;transform:scaleX(1.0238);-webkit-text-stroke:0.1px #000000;">50.00</span>
<span style="left:33.01px;top:664.33px;font-size:10.0px;line-height:10.0px;color:#000000;transform:scaleX(0.8360);">PERMITS</span>
<span style="left:227.93px;top:663.72px;font-size:10.6px;line-height:10.6px;color:#000000;transform:scaleX(0.9669);">S</span>
<div style="left:231px;top:663.7px;width:1px;height:11.2px;background:#000000;opacity:0.55"></div>
<span style="left:270.99px;top:664.02px;font-size:10.6px;line-height:10.6px;color:#000000;transform:scaleX(1.0283);-webkit-text-stroke:0.1px #000000;">250.00</span>
<span style="left:316.93px;top:663.72px;font-size:10.6px;line-height:10.6px;color:#000000;transform:scaleX(0.9669);">S</span>
<div style="left:320px;top:663.7px;width:1px;height:11.2px;background:#000000;opacity:0.55"></div>
<span style="left:359.99px;top:664.02px;font-size:10.6px;line-height:10.6px;color:#000000;transform:scaleX(1.0283);-webkit-text-stroke:0.1px #000000;">200.00</span>
<span style="left:429.13px;top:663.72px;font-size:10.6px;line-height:10.6px;color:#000000;transform:scaleX(0.9669);">S</span>
<div style="left:432px;top:663.7px;width:1px;height:11.2px;background:#000000;opacity:0.55"></div>
<span style="left:478.07px;top:664.02px;font-size:10.6px;line-height:10.6px;color:#000000;transform:scaleX(1.0238);-webkit-text-stroke:0.1px #000000;">50.00</span>
<span style="left:32.81px;top:682.33px;font-size:10.0px;line-height:10.0px;color:#000000;transform:scaleX(0.9692);">INCORPORATION</span>
<span style="left:227.93px;top:681.72px;font-size:10.6px;line-height:10.6px;color:#000000;transform:scaleX(0.9669);">S</span>
<div style="left:231px;top:681.7px;width:1px;height:11.2px;background:#000000;opacity:0.55"></div>
<span style="left:270.99px;top:682.02px;font-size:10.6px;line-height:10.6px;color:#000000;transform:scaleX(1.0283);-webkit-text-stroke:0.1px #000000;">250.00</span>
<span style="left:316.93px;top:681.72px;font-size:10.6px;line-height:10.6px;color:#000000;transform:scaleX(0.9669);">S</span>
<div style="left:320px;top:681.7px;width:1px;height:11.2px;background:#000000;opacity:0.55"></div>
<span style="left:359.99px;top:682.02px;font-size:10.6px;line-height:10.6px;color:#000000;transform:scaleX(1.0283);-webkit-text-stroke:0.1px #000000;">200.00</span>
<span style="left:429.13px;top:681.72px;font-size:10.6px;line-height:10.6px;color:#000000;transform:scaleX(0.9669);">S</span>
<div style="left:432px;top:681.7px;width:1px;height:11.2px;background:#000000;opacity:0.55"></div>
<span style="left:478.07px;top:682.02px;font-size:10.6px;line-height:10.6px;color:#000000;transform:scaleX(1.0238);-webkit-text-stroke:0.1px #000000;">50.00</span>
<span style="left:32.94px;top:700.33px;font-size:10.0px;line-height:10.0px;color:#000000;transform:scaleX(0.9313);">LEGAL</span>
<span style="left:227.93px;top:699.72px;font-size:10.6px;line-height:10.6px;color:#000000;transform:scaleX(0.9669);">S</span>
<div style="left:231px;top:699.7px;width:1px;height:11.2px;background:#000000;opacity:0.55"></div>
<span style="left:271.10px;top:700.02px;font-size:10.6px;line-height:10.6px;color:#000000;transform:scaleX(1.0248);-webkit-text-stroke:0.1px #000000;">500.00</span>
<span style="left:316.93px;top:699.72px;font-size:10.6px;line-height:10.6px;color:#000000;transform:scaleX(0.9669);">S</span>
<div style="left:320px;top:699.7px;width:1px;height:11.2px;background:#000000;opacity:0.55"></div>
<span style="left:360.10px;top:700.02px;font-size:10.6px;line-height:10.6px;color:#000000;transform:scaleX(1.0248);-webkit-text-stroke:0.1px #000000;">500.00</span>
<span style="left:429.13px;top:699.72px;font-size:10.6px;line-height:10.6px;color:#000000;transform:scaleX(0.9669);">S</span>
<div style="left:432px;top:699.7px;width:1px;height:11.2px;background:#000000;opacity:0.55"></div>
<div style="left:489px;top:705px;width:3px;height:2px;background:rgba(0,0,0,0.45)"></div>
<span style="left:32.89px;top:718.33px;font-size:10.0px;line-height:10.0px;color:#000000;transform:scaleX(0.8777);">INITIAL FRANCHISE FEE</span>
<span style="left:227.93px;top:717.72px;font-size:10.6px;line-height:10.6px;color:#000000;transform:scaleX(0.9669);">S</span>
<div style="left:231px;top:717.7px;width:1px;height:11.2px;background:#000000;opacity:0.55"></div>
<span style="left:255.82px;top:718.02px;font-size:10.6px;line-height:10.6px;color:#000000;transform:scaleX(1.0286);-webkit-text-stroke:0.1px #000000;">25,000.00</span>
<span style="left:316.93px;top:717.72px;font-size:10.6px;line-height:10.6px;color:#000000;transform:scaleX(0.9669);">S</span>
<div style="left:320px;top:717.7px;width:1px;height:11.2px;background:#000000;opacity:0.55"></div>
<span style="left:344.82px;top:718.02px;font-size:10.6px;line-height:10.6px;color:#000000;transform:scaleX(1.0286);-webkit-text-stroke:0.1px #000000;">25,000.00</span>
<span style="left:429.13px;top:717.72px;font-size:10.6px;line-height:10.6px;color:#000000;transform:scaleX(0.9669);">S</span>
<div style="left:432px;top:717.7px;width:1px;height:11.2px;background:#000000;opacity:0.55"></div>
<div style="left:489px;top:723px;width:3px;height:2px;background:rgba(0,0,0,0.45)"></div>
<span style="left:33.29px;top:736.33px;font-size:10.0px;line-height:10.0px;color:#000000;transform:scaleX(0.8640);">OTHER</span>
<span style="left:227.93px;top:735.72px;font-size:10.6px;line-height:10.6px;color:#000000;transform:scaleX(0.9669);">S</span>
<div style="left:231px;top:735.7px;width:1px;height:11.2px;background:#000000;opacity:0.55"></div>
<div style="left:288px;top:741px;width:3px;height:2px;background:rgba(0,0,0,0.45)"></div>
<span style="left:316.93px;top:735.72px;font-size:10.6px;line-height:10.6px;color:#000000;transform:scaleX(0.9669);">S</span>
<div style="left:320px;top:735.7px;width:1px;height:11.2px;background:#000000;opacity:0.55"></div>
<div style="left:377px;top:741px;width:3px;height:2px;background:rgba(0,0,0,0.45)"></div>
<span style="left:429.13px;top:735.72px;font-size:10.6px;line-height:10.6px;color:#000000;transform:scaleX(0.9669);">S</span>
<div style="left:432px;top:735.7px;width:1px;height:11.2px;background:#000000;opacity:0.55"></div>
<div style="left:489px;top:741px;width:3px;height:2px;background:rgba(0,0,0,0.45)"></div>
<span style="left:33.29px;top:754.33px;font-size:10.0px;line-height:10.0px;color:#000000;transform:scaleX(0.8640);">OTHER</span>
<span style="left:227.93px;top:753.72px;font-size:10.6px;line-height:10.6px;color:#000000;transform:scaleX(0.9669);">S</span>
<div style="left:231px;top:753.7px;width:1px;height:11.2px;background:#000000;opacity:0.55"></div>
<div style="left:288px;top:759px;width:3px;height:2px;background:rgba(0,0,0,0.45)"></div>
<span style="left:316.93px;top:753.72px;font-size:10.6px;line-height:10.6px;color:#000000;transform:scaleX(0.9669);">S</span>
<div style="left:320px;top:753.7px;width:1px;height:11.2px;background:#000000;opacity:0.55"></div>
<div style="left:377px;top:759px;width:3px;height:2px;background:rgba(0,0,0,0.45)"></div>
<span style="left:429.13px;top:753.72px;font-size:10.6px;line-height:10.6px;color:#000000;transform:scaleX(0.9669);">S</span>
<div style="left:432px;top:753.7px;width:1px;height:11.2px;background:#000000;opacity:0.55"></div>
<div style="left:489px;top:759px;width:3px;height:2px;background:rgba(0,0,0,0.45)"></div>
<span style="left:33.29px;top:772.33px;font-size:10.0px;line-height:10.0px;color:#000000;transform:scaleX(0.8640);">OTHER</span>
<span style="left:227.93px;top:771.72px;font-size:10.6px;line-height:10.6px;color:#000000;transform:scaleX(0.9669);">S</span>
<div style="left:231px;top:771.7px;width:1px;height:11.2px;background:#000000;opacity:0.55"></div>
<div style="left:288px;top:777px;width:3px;height:2px;background:rgba(0,0,0,0.45)"></div>
<span style="left:316.93px;top:771.72px;font-size:10.6px;line-height:10.6px;color:#000000;transform:scaleX(0.9669);">S</span>
<div style="left:320px;top:771.7px;width:1px;height:11.2px;background:#000000;opacity:0.55"></div>
<div style="left:377px;top:777px;width:3px;height:2px;background:rgba(0,0,0,0.45)"></div>
<span style="left:429.13px;top:771.72px;font-size:10.6px;line-height:10.6px;color:#000000;transform:scaleX(0.9669);">S</span>
<div style="left:432px;top:771.7px;width:1px;height:11.2px;background:#000000;opacity:0.55"></div>
<div style="left:489px;top:777px;width:3px;height:2px;background:rgba(0,0,0,0.45)"></div>
<div style="left:221px;top:786px;width:178px;height:17px;background:#D6DCE4;"></div>
<span style="left:227.93px;top:789.72px;font-size:10.6px;line-height:10.6px;color:#000000;transform:scaleX(0.9669);">S</span>
<div style="left:231px;top:789.7px;width:1px;height:11.2px;background:#000000;opacity:0.55"></div>
<span style="left:255.82px;top:790.02px;font-size:10.6px;line-height:10.6px;color:#000000;transform:scaleX(1.0286);-webkit-text-stroke:0.1px #000000;">26,150.00</span>
<span style="left:316.93px;top:789.72px;font-size:10.6px;line-height:10.6px;color:#000000;transform:scaleX(0.9669);">S</span>
<div style="left:320px;top:789.7px;width:1px;height:11.2px;background:#000000;opacity:0.55"></div>
<span style="left:344.82px;top:790.02px;font-size:10.6px;line-height:10.6px;color:#000000;transform:scaleX(1.0286);-webkit-text-stroke:0.1px #000000;">26,000.00</span>
<span style="left:32.59px;top:806.68px;font-size:11.6px;line-height:11.6px;font-weight:bold;color:#000000;transform:scaleX(0.9156);">LOCATION/OFFICE</span>
<div style="left:221px;top:821px;width:178px;height:90px;background:#FFFFFF;"></div>
<div style="left:221px;top:821px;width:179px;height:0;border-top:1px dotted #8C8C8C"></div>
<div style="left:221px;top:839px;width:179px;height:0;border-top:1px dotted #8C8C8C"></div>
<div style="left:221px;top:857px;width:179px;height:0;border-top:1px dotted #8C8C8C"></div>
<div style="left:221px;top:875px;width:179px;height:0;border-top:1px dotted #8C8C8C"></div>
<div style="left:221px;top:893px;width:179px;height:0;border-top:1px dotted #8C8C8C"></div>
<div style="left:221px;top:911px;width:179px;height:0;border-top:1px dotted #8C8C8C"></div>
<div style="left:221px;top:821px;width:0;height:91px;border-left:1px dotted #8C8C8C"></div>
<div style="left:310px;top:821px;width:0;height:91px;border-left:1px dotted #8C8C8C"></div>
<div style="left:399px;top:821px;width:0;height:91px;border-left:1px dotted #8C8C8C"></div>
<span style="left:33.30px;top:826.33px;font-size:10.0px;line-height:10.0px;color:#000000;transform:scaleX(0.8836);">SPACE RENTAL/LEASE DEPOSIT</span>
<span style="left:227.93px;top:825.72px;font-size:10.6px;line-height:10.6px;color:#000000;transform:scaleX(0.9669);">S</span>
<div style="left:231px;top:825.7px;width:1px;height:11.2px;background:#000000;opacity:0.55"></div>
<span style="left:262.02px;top:826.02px;font-size:10.6px;line-height:10.6px;color:#000000;transform:scaleX(1.0252);-webkit-text-stroke:0.1px #000000;">3,500.00</span>
<span style="left:316.93px;top:825.72px;font-size:10.6px;line-height:10.6px;color:#000000;transform:scaleX(0.9669);">S</span>
<div style="left:320px;top:825.7px;width:1px;height:11.2px;background:#000000;opacity:0.55"></div>
<span style="left:351.02px;top:826.02px;font-size:10.6px;line-height:10.6px;color:#000000;transform:scaleX(1.0252);-webkit-text-stroke:0.1px #000000;">3,500.00</span>
<span style="left:429.13px;top:825.72px;font-size:10.6px;line-height:10.6px;color:#000000;transform:scaleX(0.9669);">S</span>
<div style="left:432px;top:825.7px;width:1px;height:11.2px;background:#000000;opacity:0.55"></div>
<div style="left:489px;top:831px;width:3px;height:2px;background:rgba(0,0,0,0.45)"></div>
<span style="left:32.94px;top:844.33px;font-size:10.0px;line-height:10.0px;color:#000000;transform:scaleX(0.8255);">INTERNET SET-UP</span>
<span style="left:227.93px;top:843.72px;font-size:10.6px;line-height:10.6px;color:#000000;transform:scaleX(0.9669);">S</span>
<div style="left:231px;top:843.7px;width:1px;height:11.2px;background:#000000;opacity:0.55"></div>
<span style="left:271.12px;top:844.02px;font-size:10.6px;line-height:10.6px;color:#000000;transform:scaleX(1.0241);-webkit-text-stroke:0.1px #000000;">300.00</span>
<span style="left:316.93px;top:843.72px;font-size:10.6px;line-height:10.6px;color:#000000;transform:scaleX(0.9669);">S</span>
<div style="left:320px;top:843.7px;width:1px;height:11.2px;background:#000000;opacity:0.55"></div>
<span style="left:359.99px;top:844.02px;font-size:10.6px;line-height:10.6px;color:#000000;transform:scaleX(1.0283);-webkit-text-stroke:0.1px #000000;">200.00</span>
<span style="left:429.13px;top:843.72px;font-size:10.6px;line-height:10.6px;color:#000000;transform:scaleX(0.9669);">S</span>
<div style="left:432px;top:843.7px;width:1px;height:11.2px;background:#000000;opacity:0.55"></div>
<span style="left:471.60px;top:844.02px;font-size:10.6px;line-height:10.6px;color:#000000;transform:scaleX(1.0373);-webkit-text-stroke:0.1px #000000;">100.00</span>
<span style="left:33.51px;top:862.33px;font-size:10.0px;line-height:10.0px;color:#000000;transform:scaleX(0.8440);">TELEPHONE SET-UP</span>
<span style="left:227.93px;top:861.72px;font-size:10.6px;line-height:10.6px;color:#000000;transform:scaleX(0.9669);">S</span>
<div style="left:231px;top:861.7px;width:1px;height:11.2px;background:#000000;opacity:0.55"></div>
<span style="left:271.12px;top:862.02px;font-size:10.6px;line-height:10.6px;color:#000000;transform:scaleX(1.0241);-webkit-text-stroke:0.1px #000000;">300.00</span>
<span style="left:316.93px;top:861.72px;font-size:10.6px;line-height:10.6px;color:#000000;transform:scaleX(0.9669);">S</span>
<div style="left:320px;top:861.7px;width:1px;height:11.2px;background:#000000;opacity:0.55"></div>
<span style="left:360.10px;top:862.02px;font-size:10.6px;line-height:10.6px;color:#000000;transform:scaleX(1.0248);-webkit-text-stroke:0.1px #000000;">500.00</span>
<span style="left:429.13px;top:861.72px;font-size:10.6px;line-height:10.6px;color:#B0101C;transform:scaleX(0.9669);">S</span>
<div style="left:432px;top:861.7px;width:1px;height:11.2px;background:#B0101C;opacity:0.55"></div>
<span style="left:468.79px;top:862.02px;font-size:10.6px;line-height:10.6px;color:#B0101C;transform:scaleX(1.0178);-webkit-text-stroke:0.1px #B0101C;">(200.00)</span>
<span style="left:33.02px;top:880.33px;font-size:10.0px;line-height:10.0px;color:#000000;transform:scaleX(0.8339);">FURNITURE</span>
<span style="left:227.93px;top:879.72px;font-size:10.6px;line-height:10.6px;color:#000000;transform:scaleX(0.9669);">S</span>
<div style="left:231px;top:879.7px;width:1px;height:11.2px;background:#000000;opacity:0.55"></div>
<span style="left:255.53px;top:880.02px;font-size:10.6px;line-height:10.6px;color:#000000;transform:scaleX(1.0347);-webkit-text-stroke:0.1px #000000;">15,000.00</span>
<span style="left:316.93px;top:879.72px;font-size:10.6px;line-height:10.6px;color:#000000;transform:scaleX(0.9669);">S</span>
<div style="left:320px;top:879.7px;width:1px;height:11.2px;background:#000000;opacity:0.55"></div>
<span style="left:344.82px;top:880.02px;font-size:10.6px;line-height:10.6px;color:#000000;transform:scaleX(1.0286);-webkit-text-stroke:0.1px #000000;">20,000.00</span>
<span style="left:429.13px;top:879.72px;font-size:10.6px;line-height:10.6px;color:#B0101C;transform:scaleX(0.9669);">S</span>
<div style="left:432px;top:879.7px;width:1px;height:11.2px;background:#B0101C;opacity:0.55"></div>
<span style="left:459.68px;top:880.02px;font-size:10.6px;line-height:10.6px;color:#B0101C;transform:scaleX(1.0200);-webkit-text-stroke:0.1px #B0101C;">(5,000.00)</span>
<span style="left:32.96px;top:898.33px;font-size:10.0px;line-height:10.0px;color:#000000;transform:scaleX(0.9013);">EQUIPMENT</span>
<span style="left:227.93px;top:897.72px;font-size:10.6px;line-height:10.6px;color:#000000;transform:scaleX(0.9669);">S</span>
<div style="left:231px;top:897.7px;width:1px;height:11.2px;background:#000000;opacity:0.55"></div>
<span style="left:262.00px;top:898.02px;font-size:10.6px;line-height:10.6px;color:#000000;transform:scaleX(1.0258);-webkit-text-stroke:0.1px #000000;">5,000.00</span>
<span style="left:316.93px;top:897.72px;font-size:10.6px;line-height:10.6px;color:#000000;transform:scaleX(0.9669);">S</span>
<div style="left:320px;top:897.7px;width:1px;height:11.2px;background:#000000;opacity:0.55"></div>
<span style="left:351.00px;top:898.02px;font-size:10.6px;line-height:10.6px;color:#000000;transform:scaleX(1.0258);-webkit-text-stroke:0.1px #000000;">5,000.00</span>
<span style="left:429.13px;top:897.72px;font-size:10.6px;line-height:10.6px;color:#000000;transform:scaleX(0.9669);">S</span>
<div style="left:432px;top:897.7px;width:1px;height:11.2px;background:#000000;opacity:0.55"></div>
<div style="left:489px;top:903px;width:3px;height:2px;background:rgba(0,0,0,0.45)"></div>
</body></html>
